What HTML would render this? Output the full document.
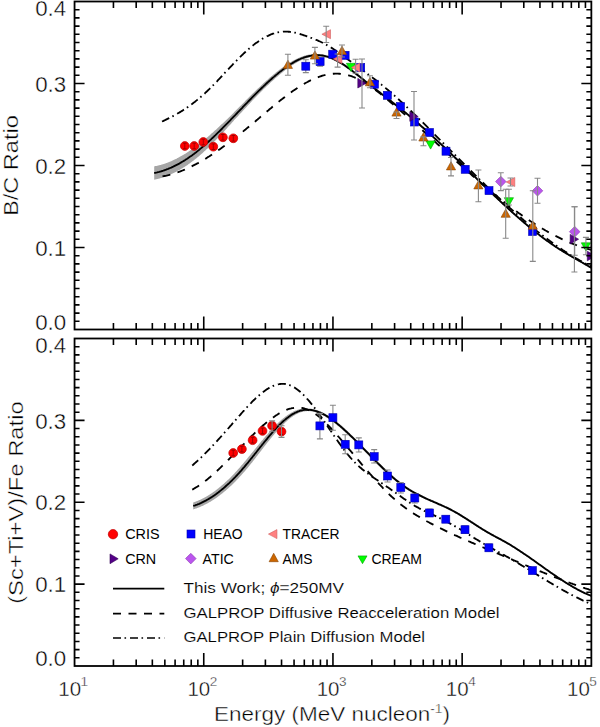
<!DOCTYPE html>
<html><head><meta charset="utf-8"><style>
html,body{margin:0;padding:0;background:#fff;overflow:hidden;}
svg{display:block;font-family:"Liberation Sans", sans-serif;}
text{stroke:#fff;stroke-width:0.4px;}
text.n{stroke:none;}
text.g{stroke-width:0.15px;}
</style></head><body>
<svg width="600" height="727" viewBox="0 0 600 727">
<defs><clipPath id="ct"><rect x="74.55" y="1.5" width="516.8000000000001" height="328.0"/></clipPath><clipPath id="cb"><rect x="74.55" y="338.5" width="516.8000000000001" height="327.5"/></clipPath></defs>
<g clip-path="url(#ct)">
<clipPath id="bc154"><rect x="154.2" y="0" width="445.8" height="727"/></clipPath>
<path d="M151.0 180.1 L151.5 180.1 L152.1 180.0 L152.6 179.9 L153.2 179.8 L153.8 179.8 L154.3 179.7 L154.9 179.6 L155.4 179.5 L155.9 179.3 L156.5 179.2 L157.0 179.1 L157.6 178.9 L158.1 178.8 L158.7 178.7 L159.2 178.5 L159.8 178.4 L160.3 178.2 L160.8 178.0 L161.4 177.9 L161.9 177.7 L162.5 177.5 L163.0 177.4 L163.5 177.2 L164.1 177.0 L164.6 176.8 L165.1 176.6 L165.7 176.4 L166.2 176.2 L166.7 176.0 L167.3 175.8 L167.8 175.6 L168.3 175.4 L168.9 175.1 L169.4 174.9 L169.9 174.7 L170.5 174.5 L171.0 174.2 L171.5 174.0 L172.0 173.8 L172.6 173.5 L173.1 173.3 L173.6 173.0 L174.1 172.7 L174.7 172.5 L175.2 172.2 L175.7 172.0 L176.2 171.7 L176.8 171.4 L177.3 171.1 L177.8 170.8 L178.3 170.6 L178.8 170.3 L179.4 170.0 L179.9 169.7 L180.4 169.4 L180.9 169.1 L181.4 168.8 L181.9 168.5 L182.5 168.2 L183.0 167.8 L183.5 167.5 L184.0 167.2 L184.5 166.9 L185.0 166.5 L185.5 166.2 L186.1 165.9 L186.6 165.5 L187.1 165.2 L187.6 164.9 L188.1 164.5 L188.6 164.1 L189.1 163.8 L189.6 163.4 L190.1 163.1 L190.6 162.7 L191.1 162.3 L191.6 161.9 L192.1 161.6 L192.6 161.2 L193.2 160.8 L193.7 160.4 L194.2 160.0 L194.7 159.6 L195.2 159.2 L195.7 158.8 L196.2 158.4 L196.7 158.0 L197.2 157.6 L197.7 157.2 L198.2 156.8 L198.7 156.4 L199.2 155.9 L199.7 155.5 L200.1 155.1 L200.6 154.7 L201.1 154.2 L201.6 153.8 L202.1 153.4 L202.6 152.9 L203.1 152.5 L203.6 152.0 L204.1 151.6 L204.6 151.1 L205.1 150.7 L205.6 150.2 L206.1 149.8 L206.6 149.3 L207.1 148.8 L207.6 148.4 L208.1 147.9 L208.6 147.4 L209.0 147.0 L209.5 146.5 L210.0 146.0 L210.5 145.5 L211.0 145.0 L211.5 144.6 L212.0 144.1 L212.5 143.6 L213.0 143.1 L213.4 142.6 L213.9 142.1 L214.4 141.6 L214.9 141.1 L215.4 140.6 L215.9 140.1 L216.4 139.6 L216.9 139.1 L217.3 138.6 L217.8 138.1 L218.3 137.6 L218.8 137.1 L219.3 136.6 L219.8 136.0 L220.3 135.5 L220.7 135.0 L221.2 134.5 L221.7 134.0 L222.2 133.5 L222.7 132.9 L223.2 132.4 L223.6 131.9 L224.1 131.4 L224.6 130.8 L225.1 130.3 L225.6 129.8 L226.0 129.2 L226.5 128.7 L227.0 128.2 L227.5 127.6 L228.0 127.1 L228.4 126.6 L228.9 126.0 L229.4 125.5 L229.9 125.0 L230.4 124.4 L230.9 123.9 L231.3 123.4 L231.8 122.8 L232.3 122.3 L232.8 121.7 L233.3 121.2 L233.7 120.7 L234.2 120.1 L234.7 119.6 L235.2 119.1 L235.7 118.5 L236.2 118.0 L236.7 117.5 L237.2 117.0 L237.7 116.4 L238.2 115.9 L238.6 115.4 L239.1 114.8 L239.6 114.3 L240.1 113.8 L240.6 113.2 L241.1 112.7 L241.6 112.2 L242.1 111.7 L242.6 111.1 L243.1 110.6 L243.6 110.1 L244.1 109.5 L244.5 109.0 L245.0 108.5 L245.5 108.0 L246.0 107.4 L246.5 106.9 L247.0 106.4 L247.5 105.8 L248.0 105.3 L248.5 104.8 L249.0 104.3 L249.5 103.8 L250.0 103.2 L250.4 102.7 L250.9 102.2 L251.4 101.7 L251.9 101.1 L252.4 100.6 L252.9 100.1 L253.4 99.6 L253.9 99.1 L254.4 98.6 L254.9 98.1 L255.4 97.6 L255.9 97.1 L256.4 96.5 L256.8 96.0 L257.3 95.5 L257.8 95.0 L258.3 94.5 L258.8 94.0 L259.3 93.5 L259.8 93.0 L260.3 92.5 L260.8 92.1 L261.3 91.6 L261.8 91.1 L262.3 90.6 L262.8 90.1 L263.2 89.6 L263.7 89.1 L264.2 88.6 L264.7 88.2 L265.2 87.7 L265.7 87.2 L266.2 86.7 L266.7 86.3 L267.2 85.8 L267.7 85.3 L268.2 84.9 L268.7 84.4 L269.1 83.9 L269.6 83.5 L270.1 83.0 L270.6 82.6 L271.1 82.1 L271.6 81.6 L272.1 81.2 L272.6 80.8 L273.1 80.3 L273.6 79.9 L274.1 79.4 L274.5 79.0 L275.0 78.6 L275.5 78.1 L276.0 77.7 L276.5 77.3 L277.0 76.9 L277.5 76.4 L278.0 76.0 L278.5 75.6 L279.0 75.2 L279.4 74.8 L279.9 74.4 L280.4 74.0 L280.9 73.6 L281.4 73.2 L281.9 72.8 L282.4 72.4 L282.9 72.0 L283.4 71.6 L283.9 71.2 L284.3 70.9 L284.8 70.5 L285.3 70.1 L285.8 69.8 L286.3 69.4 L286.8 69.0 L287.3 68.7 L287.8 68.3 L288.3 68.0 L288.7 67.6 L289.2 67.3 L289.7 66.9 L290.2 66.6 L290.7 66.3 L291.2 65.9 L291.7 65.6 L292.1 65.3 L292.6 65.0 L293.1 64.7 L293.6 64.4 L294.1 64.1 L294.6 63.8 L295.1 63.5 L295.5 63.2 L296.0 62.9 L296.5 62.7 L297.0 62.4 L297.5 62.1 L298.0 61.9 L298.4 61.6 L298.9 61.4 L299.4 61.1 L299.9 60.9 L300.4 60.7 L300.8 60.4 L301.3 60.2 L301.8 60.0 L302.3 59.8 L302.8 59.6 L303.3 59.4 L303.7 59.2 L304.2 59.1 L304.7 58.9 L305.2 58.7 L305.7 58.5 L306.1 58.4 L306.6 58.2 L307.1 58.1 L307.6 58.0 L308.1 57.8 L308.5 57.7 L309.0 57.6 L309.5 57.5 L310.0 57.4 L310.5 57.3 L310.9 57.2 L311.4 57.1 L311.9 57.0 L312.4 56.9 L312.9 56.8 L313.3 56.8 L313.8 56.7 L314.3 56.7 L314.8 56.6 L315.3 56.6 L315.8 56.6 L316.2 56.5 L316.7 56.5 L317.2 56.5 L317.7 56.5 L318.2 56.5 L318.6 56.5 L319.1 56.5 L319.6 56.6 L320.1 56.6 L320.6 56.6 L321.1 56.7 L321.5 56.7 L322.0 56.8 L322.5 56.8 L323.0 56.9 L323.5 57.0 L324.0 57.1 L324.4 57.2 L324.9 57.3 L325.4 57.4 L325.9 57.5 L326.4 57.6 L326.9 57.7 L327.4 57.9 L327.9 58.0 L328.3 58.2 L328.8 58.3 L329.3 58.5 L329.8 58.7 L330.3 58.8 L330.8 59.0 L331.3 59.2 L331.8 59.4 L332.3 59.6 L332.8 59.9 L333.2 60.1 L333.7 60.3 L334.2 60.6 L334.7 60.8 L335.2 61.0 L335.7 61.3 L336.2 61.5 L336.7 61.8 L337.2 62.1 L337.7 62.4 L338.2 62.6 L338.7 62.9 L339.1 63.2 L339.6 63.5 L340.1 63.8 L340.6 64.1 L341.1 64.4 L341.6 64.7 L342.1 65.0 L342.6 65.3 L343.1 65.7 L343.6 66.0 L344.1 66.3 L344.6 66.7 L345.1 67.0 L345.6 67.3 L346.1 67.7 L346.6 68.0 L347.1 68.4 L347.6 68.7 L348.1 69.1 L348.6 69.5 L349.1 69.8 L349.6 70.2 L350.1 70.6 L350.6 70.9 L351.1 71.3 L351.6 71.7 L352.1 72.1 L352.6 72.4 L353.1 72.8 L353.6 73.2 L354.1 73.6 L354.6 74.0 L355.1 74.4 L355.6 74.8 L356.0 75.2 L356.5 75.5 L357.0 75.9 L357.5 76.3 L358.0 76.7 L358.5 77.1 L359.0 77.5 L359.5 77.9 L360.0 78.3 L360.5 78.7 L361.0 79.1 L361.6 79.5 L362.1 79.9 L362.6 80.3 L363.1 80.7 L363.6 81.1 L364.1 81.5 L364.6 81.9 L365.1 82.3 L365.6 82.7 L366.1 83.1 L366.6 83.5 L367.1 83.9 L367.6 84.3 L368.1 84.7 L368.6 85.1 L369.1 85.5 L369.6 85.9 L370.1 86.2 L370.6 86.6 L371.1 87.0 L371.6 87.4 L372.1 87.8 L372.6 88.2 L373.1 88.6 L373.6 89.0 L374.1 89.4 L374.6 89.7 L375.1 90.1 L375.6 90.5 L376.1 90.9 L376.6 91.3 L377.1 91.7 L377.6 92.1 L378.1 92.5 L378.6 92.8 L379.1 93.2 L379.6 93.6 L380.1 94.0 L380.6 94.4 L381.1 94.8 L381.6 95.1 L382.1 95.5 L382.6 95.9 L383.1 96.3 L383.6 96.7 L384.1 97.1 L384.6 97.5 L385.1 97.8 L385.6 98.2 L386.1 98.6 L386.6 99.0 L387.1 99.4 L387.6 99.8 L388.1 100.2 L388.6 100.6 L389.1 100.9 L389.6 101.3 L390.1 101.7 L390.6 102.1 L391.1 102.5 L391.6 102.9 L392.1 103.3 L392.6 103.7 L393.1 104.1 L393.6 104.4 L394.1 104.8 L394.6 105.2 L395.1 105.6 L395.6 106.0 L396.1 106.4 L396.6 106.8 L397.1 107.2 L397.6 107.6 L398.1 108.0 L398.6 108.4 L399.1 108.8 L399.6 109.2 L400.1 109.6 L400.6 110.0 L401.1 110.4 L401.6 110.8 L402.1 111.2 L402.6 111.6 L403.1 112.0 L403.6 112.4 L404.1 112.8 L404.6 113.2 L405.1 113.6 L405.6 114.0 L406.1 114.4 L406.6 114.8 L407.1 115.2 L407.6 115.7 L408.1 116.1 L408.6 116.5 L409.1 116.9 L409.6 117.3 L410.1 117.7 L410.6 118.2 L411.1 118.6 L411.6 119.0 L412.1 119.4 L412.6 119.8 L413.1 120.3 L413.6 120.7 L414.1 121.1 L414.6 121.6 L415.1 122.0 L415.6 122.4 L416.1 122.8 L416.6 123.3 L417.1 123.7 L417.6 124.1 L418.1 124.6 L418.6 125.0 L419.1 125.5 L419.6 125.9 L420.1 126.3 L420.6 126.8 L421.1 127.2 L421.6 127.7 L422.1 128.1 L422.6 128.5 L423.1 129.0 L423.6 129.4 L424.1 129.9 L424.6 130.3 L425.1 130.8 L425.6 131.2 L426.1 131.7 L426.6 132.1 L427.1 132.6 L427.6 133.0 L428.1 133.5 L428.6 133.9 L429.1 134.4 L429.6 134.8 L430.1 135.3 L430.6 135.8 L431.1 136.2 L431.6 136.7 L432.1 137.1 L432.6 137.6 L433.1 138.1 L433.6 138.5 L434.1 139.0 L434.6 139.4 L435.1 139.9 L435.6 140.4 L436.1 140.8 L436.6 141.3 L437.1 141.8 L437.6 142.2 L438.1 142.7 L438.6 143.2 L439.1 143.6 L439.6 144.1 L440.1 144.6 L440.6 145.0 L441.1 145.5 L441.6 146.0 L442.1 146.5 L442.6 146.9 L443.1 147.4 L443.6 147.9 L444.1 148.4 L444.6 148.8 L445.1 149.3 L445.6 149.8 L446.1 150.3 L446.6 150.7 L447.1 151.2 L447.6 151.7 L448.1 152.2 L448.6 152.6 L449.1 153.1 L449.6 153.6 L450.1 154.1 L450.6 154.6 L451.1 155.0 L451.6 155.5 L452.1 156.0 L452.6 156.5 L453.1 157.0 L453.6 157.4 L454.1 157.9 L454.6 158.4 L455.1 158.9 L455.6 159.4 L456.1 159.9 L456.6 160.3 L457.1 160.8 L457.6 161.3 L458.1 161.8 L458.6 162.3 L459.1 162.8 L459.6 163.2 L460.1 163.7 L460.6 164.2 L461.1 164.7 L461.6 165.2 L462.1 165.7 L462.6 166.2 L463.1 166.6 L463.6 167.1 L464.1 167.6 L464.6 168.1 L465.1 168.6 L465.6 169.1 L466.1 169.6 L466.6 170.0 L467.1 170.5 L467.6 171.0 L468.1 171.5 L468.6 172.0 L469.1 172.5 L469.6 173.0 L470.1 173.4 L470.6 173.9 L471.1 174.4 L471.6 174.9 L472.1 175.4 L472.6 175.9 L473.1 176.4 L473.6 176.8 L474.1 177.3 L474.6 177.8 L475.1 178.3 L475.6 178.8 L476.1 179.3 L476.6 179.8 L477.1 180.2 L477.6 180.7 L478.1 181.2 L478.6 181.7 L479.1 182.2 L479.6 182.7 L480.1 183.1 L480.6 183.6 L481.1 184.1 L481.6 184.6 L482.1 185.1 L482.6 185.6 L483.1 186.0 L483.6 186.5 L484.1 187.0 L484.6 187.5 L485.1 188.0 L485.6 188.4 L486.1 188.9 L486.6 189.4 L487.1 189.9 L487.6 190.4 L488.1 190.8 L488.6 191.3 L489.1 191.8 L489.6 192.3 L490.1 192.8 L490.6 193.2 L491.1 193.7 L491.6 194.2 L492.1 194.7 L492.7 195.1 L493.2 195.6 L493.7 196.1 L494.2 196.6 L494.7 197.0 L495.2 197.5 L495.7 198.0 L496.2 198.4 L496.7 198.9 L497.2 199.4 L497.7 199.9 L498.2 200.3 L498.7 200.8 L499.2 201.3 L499.7 201.7 L500.2 202.2 L500.7 202.7 L501.2 203.1 L501.7 203.6 L502.2 204.1 L502.7 204.5 L503.2 205.0 L503.7 205.4 L504.2 205.9 L504.7 206.4 L505.2 206.8 L505.7 207.3 L506.2 207.7 L506.7 208.2 L507.2 208.7 L507.7 209.1 L508.2 209.6 L508.7 210.0 L509.2 210.5 L509.7 210.9 L510.2 211.4 L510.7 211.8 L511.2 212.3 L511.7 212.7 L512.2 213.2 L512.7 213.6 L513.2 214.1 L513.7 214.5 L514.2 215.0 L514.7 215.4 L515.2 215.9 L515.7 216.3 L516.2 216.8 L516.7 217.2 L517.2 217.6 L517.7 218.1 L518.2 218.5 L518.7 219.0 L519.2 219.4 L519.7 219.8 L520.2 220.3 L520.7 220.7 L521.2 221.1 L521.7 221.6 L522.2 222.0 L522.7 222.4 L523.2 222.8 L523.7 223.3 L524.2 223.7 L524.7 224.1 L525.2 224.5 L525.7 225.0 L526.2 225.4 L526.7 225.8 L527.2 226.2 L527.7 226.6 L528.2 227.0 L528.7 227.5 L529.2 227.9 L529.7 228.3 L530.2 228.7 L530.7 229.1 L531.2 229.5 L531.7 229.9 L532.2 230.3 L532.7 230.7 L533.2 231.1 L533.7 231.5 L534.3 231.9 L534.8 232.3 L535.3 232.7 L535.8 233.1 L536.3 233.5 L536.8 233.9 L537.3 234.3 L537.8 234.7 L538.3 235.1 L538.8 235.5 L539.3 235.9 L539.8 236.2 L540.3 236.6 L540.8 237.0 L541.3 237.4 L541.8 237.8 L542.3 238.1 L542.8 238.5 L543.3 238.9 L543.8 239.3 L544.3 239.6 L544.8 240.0 L545.3 240.4 L545.8 240.7 L546.3 241.1 L546.8 241.5 L547.3 241.8 L547.8 242.2 L548.3 242.5 L548.8 242.9 L549.3 243.2 L549.8 243.6 L550.3 243.9 L550.8 244.3 L551.3 244.6 L551.8 245.0 L552.3 245.3 L552.8 245.7 L553.3 246.0 L553.8 246.4 L554.3 246.7 L554.8 247.0 L555.3 247.4 L555.8 247.7 L556.3 248.0 L556.8 248.3 L557.3 248.7 L557.8 249.0 L558.3 249.3 L558.8 249.6 L559.3 249.9 L559.8 250.3 L560.3 250.6 L560.8 250.9 L561.3 251.2 L561.8 251.5 L562.4 251.8 L562.9 252.1 L563.4 252.4 L563.9 252.7 L564.4 253.0 L564.9 253.3 L565.4 253.6 L565.9 253.9 L566.4 254.2 L566.9 254.5 L567.4 254.8 L567.9 255.1 L568.4 255.4 L568.9 255.7 L569.4 256.0 L569.9 256.3 L570.4 256.6 L570.9 256.8 L571.4 257.1 L571.9 257.4 L572.4 257.7 L572.9 258.0 L573.4 258.3 L573.9 258.6 L574.4 258.8 L574.9 259.1 L575.4 259.4 L575.9 259.7 L576.4 260.0 L576.9 260.3 L577.4 260.5 L577.9 260.8 L578.4 261.1 L578.9 261.4 L579.4 261.7 L579.9 262.0 L580.4 262.2 L580.9 262.5 L581.4 262.8 L581.9 263.1 L582.4 263.4 L582.9 263.7 L583.4 263.9 L583.9 264.2 L584.4 264.5 L584.9 264.8 L585.4 265.1 L585.9 265.4 L586.4 265.7 L586.9 266.0 L587.4 266.2 L587.9 266.5 L588.4 266.8 L588.9 267.1 L589.4 267.4 L589.9 267.7 L590.4 268.0 L590.9 268.3 L591.4 268.6 L591.9 268.9 L592.4 269.2 L592.9 269.5 L593.4 269.8 L593.9 270.1 L594.4 270.4 L594.9 270.8 L595.1 270.9 L595.7 269.8 L595.5 269.7 L595.0 269.4 L594.5 269.1 L594.0 268.8 L593.5 268.5 L593.0 268.2 L592.5 267.9 L592.0 267.6 L591.5 267.3 L591.0 267.0 L590.5 266.7 L590.0 266.4 L589.5 266.1 L589.0 265.8 L588.5 265.5 L588.0 265.2 L587.5 264.9 L587.0 264.6 L586.5 264.3 L586.0 264.0 L585.5 263.7 L585.0 263.4 L584.5 263.1 L584.0 262.8 L583.5 262.6 L583.0 262.3 L582.5 262.0 L582.0 261.7 L581.5 261.4 L581.0 261.1 L580.5 260.8 L580.0 260.6 L579.5 260.3 L579.0 260.0 L578.5 259.7 L578.0 259.4 L577.5 259.1 L577.0 258.9 L576.5 258.6 L576.0 258.3 L575.5 258.0 L575.0 257.7 L574.5 257.4 L574.0 257.1 L573.5 256.9 L573.0 256.6 L572.5 256.3 L572.0 256.0 L571.5 255.7 L571.0 255.4 L570.5 255.1 L570.0 254.8 L569.5 254.6 L569.0 254.3 L568.5 254.0 L568.0 253.7 L567.5 253.4 L567.0 253.1 L566.5 252.8 L566.0 252.5 L565.5 252.2 L565.0 251.9 L564.5 251.6 L564.0 251.3 L563.5 251.0 L563.0 250.7 L562.6 250.4 L562.1 250.1 L561.6 249.7 L561.1 249.4 L560.6 249.1 L560.1 248.8 L559.6 248.5 L559.1 248.2 L558.6 247.9 L558.1 247.5 L557.6 247.2 L557.1 246.9 L556.6 246.5 L556.1 246.2 L555.6 245.9 L555.1 245.6 L554.6 245.2 L554.1 244.9 L553.6 244.5 L553.1 244.2 L552.6 243.9 L552.1 243.5 L551.6 243.2 L551.1 242.8 L550.6 242.5 L550.1 242.1 L549.6 241.8 L549.1 241.4 L548.6 241.0 L548.1 240.7 L547.6 240.3 L547.1 240.0 L546.6 239.6 L546.1 239.2 L545.6 238.9 L545.1 238.5 L544.6 238.1 L544.1 237.8 L543.6 237.4 L543.1 237.0 L542.6 236.6 L542.1 236.3 L541.6 235.9 L541.1 235.5 L540.6 235.1 L540.1 234.7 L539.6 234.3 L539.1 234.0 L538.6 233.6 L538.1 233.2 L537.6 232.8 L537.1 232.4 L536.6 232.0 L536.1 231.6 L535.6 231.2 L535.1 230.8 L534.7 230.4 L534.2 230.0 L533.7 229.6 L533.2 229.2 L532.7 228.8 L532.2 228.4 L531.7 228.0 L531.2 227.6 L530.7 227.2 L530.2 226.7 L529.7 226.3 L529.2 225.9 L528.7 225.5 L528.2 225.1 L527.7 224.7 L527.2 224.3 L526.7 223.8 L526.2 223.4 L525.7 223.0 L525.2 222.6 L524.7 222.1 L524.2 221.7 L523.7 221.3 L523.2 220.9 L522.7 220.4 L522.2 220.0 L521.7 219.6 L521.2 219.1 L520.7 218.7 L520.2 218.3 L519.7 217.8 L519.2 217.4 L518.7 216.9 L518.2 216.5 L517.7 216.1 L517.2 215.6 L516.7 215.2 L516.2 214.7 L515.7 214.3 L515.2 213.9 L514.7 213.4 L514.2 213.0 L513.7 212.5 L513.2 212.1 L512.7 211.6 L512.2 211.2 L511.7 210.7 L511.2 210.3 L510.7 209.8 L510.2 209.4 L509.7 208.9 L509.2 208.4 L508.7 208.0 L508.2 207.5 L507.7 207.1 L507.2 206.6 L506.7 206.2 L506.2 205.7 L505.7 205.2 L505.2 204.8 L504.7 204.3 L504.2 203.8 L503.7 203.4 L503.2 202.9 L502.7 202.5 L502.2 202.0 L501.7 201.5 L501.2 201.1 L500.7 200.6 L500.2 200.1 L499.7 199.6 L499.2 199.2 L498.7 198.7 L498.2 198.2 L497.7 197.8 L497.2 197.3 L496.7 196.8 L496.2 196.4 L495.7 195.9 L495.2 195.4 L494.7 194.9 L494.2 194.5 L493.7 194.0 L493.3 193.5 L492.8 193.0 L492.3 192.5 L491.8 192.1 L491.3 191.6 L490.8 191.1 L490.3 190.6 L489.8 190.2 L489.3 189.7 L488.8 189.2 L488.3 188.7 L487.8 188.2 L487.3 187.8 L486.8 187.3 L486.3 186.8 L485.8 186.3 L485.3 185.8 L484.8 185.3 L484.3 184.9 L483.8 184.4 L483.3 183.9 L482.8 183.4 L482.3 182.9 L481.8 182.4 L481.3 182.0 L480.8 181.5 L480.3 181.0 L479.8 180.5 L479.3 180.0 L478.8 179.5 L478.3 179.1 L477.8 178.6 L477.3 178.1 L476.8 177.6 L476.3 177.1 L475.8 176.6 L475.3 176.1 L474.8 175.6 L474.3 175.2 L473.8 174.7 L473.3 174.2 L472.8 173.7 L472.3 173.2 L471.8 172.7 L471.3 172.2 L470.8 171.8 L470.3 171.3 L469.8 170.8 L469.3 170.3 L468.8 169.8 L468.3 169.3 L467.8 168.8 L467.3 168.3 L466.8 167.9 L466.3 167.4 L465.8 166.9 L465.3 166.4 L464.8 165.9 L464.3 165.4 L463.8 164.9 L463.3 164.4 L462.8 164.0 L462.3 163.5 L461.8 163.0 L461.3 162.5 L460.8 162.0 L460.3 161.5 L459.8 161.0 L459.3 160.6 L458.8 160.1 L458.3 159.6 L457.8 159.1 L457.3 158.6 L456.8 158.1 L456.3 157.6 L455.8 157.2 L455.3 156.7 L454.8 156.2 L454.3 155.7 L453.8 155.2 L453.3 154.7 L452.8 154.3 L452.3 153.8 L451.8 153.3 L451.3 152.8 L450.8 152.3 L450.3 151.9 L449.8 151.4 L449.3 150.9 L448.8 150.4 L448.3 149.9 L447.8 149.5 L447.3 149.0 L446.8 148.5 L446.3 148.0 L445.8 147.5 L445.3 147.1 L444.8 146.6 L444.3 146.1 L443.8 145.6 L443.3 145.2 L442.8 144.7 L442.3 144.2 L441.8 143.7 L441.3 143.3 L440.8 142.8 L440.3 142.3 L439.8 141.9 L439.3 141.4 L438.8 140.9 L438.3 140.5 L437.8 140.0 L437.3 139.5 L436.8 139.0 L436.3 138.6 L435.8 138.1 L435.3 137.7 L434.8 137.2 L434.3 136.7 L433.8 136.3 L433.3 135.8 L432.8 135.3 L432.3 134.9 L431.8 134.4 L431.3 134.0 L430.8 133.5 L430.3 133.0 L429.8 132.6 L429.3 132.1 L428.8 131.7 L428.3 131.2 L427.8 130.8 L427.3 130.3 L426.8 129.9 L426.3 129.4 L425.8 128.9 L425.3 128.5 L424.8 128.1 L424.3 127.6 L423.8 127.2 L423.3 126.7 L422.8 126.3 L422.3 125.8 L421.8 125.4 L421.3 124.9 L420.8 124.5 L420.3 124.0 L419.8 123.6 L419.3 123.2 L418.8 122.7 L418.3 122.3 L417.8 121.9 L417.3 121.4 L416.8 121.0 L416.3 120.6 L415.8 120.1 L415.3 119.7 L414.8 119.3 L414.3 118.8 L413.8 118.4 L413.3 118.0 L412.8 117.6 L412.3 117.1 L411.8 116.7 L411.3 116.3 L410.8 115.9 L410.3 115.4 L409.8 115.0 L409.3 114.6 L408.8 114.2 L408.3 113.8 L407.8 113.4 L407.3 112.9 L406.8 112.5 L406.3 112.1 L405.8 111.7 L405.3 111.3 L404.8 110.9 L404.3 110.5 L403.8 110.1 L403.3 109.7 L402.8 109.3 L402.3 108.9 L401.8 108.5 L401.3 108.1 L400.8 107.7 L400.3 107.3 L399.8 106.9 L399.3 106.5 L398.8 106.1 L398.3 105.7 L397.8 105.3 L397.3 104.9 L396.8 104.5 L396.3 104.1 L395.8 103.7 L395.3 103.3 L394.8 102.9 L394.3 102.5 L393.8 102.1 L393.3 101.7 L392.8 101.3 L392.3 100.9 L391.8 100.5 L391.3 100.2 L390.8 99.8 L390.3 99.4 L389.8 99.0 L389.3 98.6 L388.8 98.2 L388.3 97.8 L387.8 97.4 L387.3 97.0 L386.8 96.7 L386.3 96.3 L385.8 95.9 L385.3 95.5 L384.8 95.1 L384.3 94.7 L383.8 94.3 L383.3 93.9 L382.8 93.6 L382.3 93.2 L381.8 92.8 L381.3 92.4 L380.8 92.0 L380.3 91.6 L379.8 91.2 L379.3 90.9 L378.8 90.5 L378.3 90.1 L377.8 89.7 L377.3 89.3 L376.8 88.9 L376.3 88.5 L375.8 88.1 L375.3 87.7 L374.8 87.4 L374.3 87.0 L373.8 86.6 L373.3 86.2 L372.8 85.8 L372.3 85.4 L371.8 85.0 L371.3 84.6 L370.8 84.2 L370.3 83.8 L369.8 83.5 L369.3 83.1 L368.8 82.7 L368.3 82.3 L367.8 81.9 L367.3 81.5 L366.8 81.1 L366.3 80.7 L365.8 80.3 L365.3 79.9 L364.8 79.5 L364.3 79.1 L363.8 78.7 L363.3 78.3 L362.8 77.9 L362.4 77.5 L361.9 77.1 L361.4 76.7 L360.9 76.3 L360.4 75.9 L359.9 75.5 L359.4 75.1 L358.9 74.7 L358.4 74.3 L357.9 73.9 L357.4 73.5 L356.8 73.1 L356.3 72.7 L355.8 72.3 L355.3 71.9 L354.8 71.5 L354.3 71.2 L353.8 70.8 L353.3 70.4 L352.8 70.0 L352.3 69.6 L351.8 69.2 L351.3 68.9 L350.8 68.5 L350.3 68.1 L349.8 67.7 L349.3 67.4 L348.8 67.0 L348.3 66.7 L347.8 66.3 L347.3 65.9 L346.8 65.6 L346.3 65.2 L345.8 64.9 L345.3 64.5 L344.8 64.2 L344.3 63.9 L343.8 63.5 L343.3 63.2 L342.8 62.9 L342.3 62.6 L341.8 62.3 L341.3 61.9 L340.8 61.6 L340.3 61.3 L339.7 61.0 L339.2 60.7 L338.7 60.5 L338.2 60.2 L337.7 59.9 L337.2 59.6 L336.7 59.4 L336.2 59.1 L335.7 58.8 L335.2 58.6 L334.7 58.3 L334.2 58.1 L333.6 57.9 L333.1 57.6 L332.6 57.4 L332.1 57.2 L331.6 57.0 L331.1 56.8 L330.6 56.6 L330.1 56.4 L329.6 56.2 L329.1 56.0 L328.5 55.9 L328.0 55.7 L327.5 55.5 L327.0 55.4 L326.5 55.2 L326.0 55.1 L325.5 55.0 L325.0 54.8 L324.4 54.7 L323.9 54.6 L323.4 54.5 L322.9 54.4 L322.4 54.3 L321.9 54.2 L321.3 54.2 L320.8 54.1 L320.3 54.1 L319.8 54.0 L319.3 54.0 L318.8 53.9 L318.2 53.9 L317.7 53.9 L317.2 53.9 L316.7 53.9 L316.2 53.9 L315.6 53.9 L315.1 53.9 L314.6 53.9 L314.1 53.9 L313.6 54.0 L313.1 54.0 L312.5 54.1 L312.0 54.1 L311.5 54.2 L311.0 54.2 L310.5 54.3 L309.9 54.4 L309.4 54.5 L308.9 54.6 L308.4 54.7 L307.9 54.8 L307.3 54.9 L306.8 55.1 L306.3 55.2 L305.8 55.3 L305.3 55.5 L304.7 55.6 L304.2 55.8 L303.7 55.9 L303.2 56.1 L302.7 56.3 L302.1 56.5 L301.6 56.7 L301.1 56.9 L300.6 57.1 L300.1 57.3 L299.6 57.5 L299.0 57.7 L298.5 57.9 L298.0 58.2 L297.5 58.4 L297.0 58.6 L296.4 58.9 L295.9 59.1 L295.4 59.4 L294.9 59.7 L294.4 59.9 L293.9 60.2 L293.3 60.5 L292.8 60.8 L292.3 61.1 L291.8 61.4 L291.3 61.7 L290.8 62.0 L290.3 62.3 L289.7 62.6 L289.2 62.9 L288.7 63.3 L288.2 63.6 L287.7 63.9 L287.2 64.3 L286.7 64.6 L286.1 64.9 L285.6 65.3 L285.1 65.6 L284.6 66.0 L284.1 66.4 L283.6 66.7 L283.1 67.1 L282.6 67.4 L282.1 67.8 L281.5 68.2 L281.0 68.6 L280.5 69.0 L280.0 69.3 L279.5 69.7 L279.0 70.1 L278.5 70.5 L278.0 70.9 L277.5 71.3 L277.0 71.7 L276.4 72.1 L275.9 72.5 L275.4 72.9 L274.9 73.4 L274.4 73.8 L273.9 74.2 L273.4 74.6 L272.9 75.0 L272.4 75.5 L271.9 75.9 L271.3 76.3 L270.8 76.8 L270.3 77.2 L269.8 77.6 L269.3 78.1 L268.8 78.5 L268.3 79.0 L267.8 79.4 L267.3 79.9 L266.8 80.3 L266.3 80.8 L265.7 81.2 L265.2 81.7 L264.7 82.2 L264.2 82.6 L263.7 83.1 L263.2 83.6 L262.7 84.0 L262.2 84.5 L261.7 85.0 L261.2 85.4 L260.7 85.9 L260.2 86.4 L259.6 86.9 L259.1 87.4 L258.6 87.9 L258.1 88.3 L257.6 88.8 L257.1 89.3 L256.6 89.8 L256.1 90.3 L255.6 90.8 L255.1 91.3 L254.6 91.8 L254.1 92.3 L253.6 92.8 L253.0 93.3 L252.5 93.8 L252.0 94.3 L251.5 94.8 L251.0 95.3 L250.5 95.8 L250.0 96.3 L249.5 96.8 L249.0 97.3 L248.5 97.8 L248.0 98.3 L247.5 98.8 L247.0 99.3 L246.4 99.8 L245.9 100.3 L245.4 100.8 L244.9 101.4 L244.4 101.9 L243.9 102.4 L243.4 102.9 L242.9 103.4 L242.4 103.9 L241.9 104.4 L241.4 104.9 L240.9 105.5 L240.3 106.0 L239.8 106.5 L239.3 107.0 L238.8 107.5 L238.3 108.0 L237.8 108.5 L237.3 109.1 L236.8 109.6 L236.3 110.1 L235.8 110.6 L235.3 111.1 L234.8 111.6 L234.2 112.1 L233.7 112.7 L233.2 113.2 L232.7 113.7 L232.2 114.2 L231.7 114.7 L231.2 115.2 L230.7 115.7 L230.2 116.3 L229.7 116.8 L229.1 117.3 L228.6 117.8 L228.1 118.2 L227.6 118.7 L227.1 119.2 L226.5 119.7 L226.0 120.2 L225.5 120.7 L225.0 121.2 L224.5 121.7 L224.0 122.2 L223.4 122.7 L222.9 123.2 L222.4 123.7 L221.9 124.1 L221.4 124.6 L220.8 125.1 L220.3 125.6 L219.8 126.1 L219.3 126.6 L218.8 127.0 L218.2 127.5 L217.7 128.0 L217.2 128.5 L216.7 128.9 L216.2 129.4 L215.7 129.9 L215.1 130.3 L214.6 130.8 L214.1 131.3 L213.6 131.7 L213.1 132.2 L212.6 132.7 L212.1 133.1 L211.5 133.6 L211.0 134.0 L210.5 134.5 L210.0 134.9 L209.5 135.4 L209.0 135.8 L208.5 136.3 L208.0 136.7 L207.4 137.2 L206.9 137.6 L206.4 138.0 L205.9 138.5 L205.4 138.9 L204.9 139.3 L204.4 139.7 L203.9 140.2 L203.4 140.6 L202.8 141.0 L202.3 141.4 L201.8 141.8 L201.3 142.2 L200.8 142.6 L200.3 143.0 L199.8 143.4 L199.3 143.8 L198.8 144.2 L198.3 144.6 L197.8 145.0 L197.3 145.4 L196.8 145.8 L196.3 146.2 L195.8 146.5 L195.3 146.9 L194.8 147.3 L194.3 147.6 L193.7 148.0 L193.2 148.4 L192.7 148.7 L192.2 149.1 L191.7 149.4 L191.2 149.8 L190.7 150.1 L190.2 150.4 L189.7 150.8 L189.2 151.1 L188.7 151.4 L188.2 151.8 L187.7 152.1 L187.2 152.4 L186.8 152.7 L186.3 153.0 L185.8 153.4 L185.3 153.7 L184.8 154.0 L184.3 154.3 L183.8 154.6 L183.3 154.9 L182.8 155.1 L182.3 155.4 L181.8 155.7 L181.3 156.0 L180.8 156.3 L180.3 156.6 L179.9 156.8 L179.4 157.1 L178.9 157.4 L178.4 157.6 L177.9 157.9 L177.4 158.1 L176.9 158.4 L176.5 158.7 L176.0 158.9 L175.5 159.1 L175.0 159.4 L174.5 159.6 L174.0 159.8 L173.6 160.1 L173.1 160.3 L172.6 160.5 L172.1 160.7 L171.6 161.0 L171.2 161.2 L170.7 161.4 L170.2 161.6 L169.7 161.8 L169.3 162.0 L168.8 162.2 L168.3 162.3 L167.8 162.5 L167.4 162.7 L166.9 162.9 L166.4 163.1 L165.9 163.2 L165.5 163.4 L165.0 163.6 L164.5 163.7 L164.1 163.9 L163.6 164.0 L163.1 164.2 L162.7 164.3 L162.2 164.5 L161.7 164.6 L161.3 164.7 L160.8 164.9 L160.3 165.0 L159.9 165.1 L159.4 165.2 L158.9 165.3 L158.5 165.5 L158.0 165.6 L157.6 165.7 L157.1 165.8 L156.6 165.9 L156.2 166.0 L155.7 166.0 L155.3 166.1 L154.8 166.2 L154.4 166.3 L153.9 166.4 L153.5 166.4 L153.0 166.5 L152.5 166.6 L152.1 166.7 L151.6 166.7 L151.2 166.8 L150.8 166.9 L150.3 166.9 L149.9 167.0 L149.4 167.0Z" fill="#a6a6a6" stroke="none" clip-path="url(#bc154)"/>
<path d="M162.5 176.4 L163.5 176.2 L164.5 176.0 L165.5 175.8 L166.5 175.6 L167.5 175.3 L168.5 175.1 L169.5 174.8 L170.5 174.6 L171.5 174.3 L172.5 174.0 L173.5 173.7 L174.5 173.4 L175.5 173.1 L176.5 172.7 L177.5 172.4 L178.5 172.0 L179.5 171.7 L180.5 171.3 L181.5 170.9 L182.5 170.5 L183.5 170.1 L184.5 169.7 L185.5 169.2 L186.5 168.8 L187.5 168.3 L188.5 167.9 L189.5 167.4 L190.5 166.9 L191.5 166.4 L192.5 165.9 L193.5 165.4 L194.5 164.9 L195.5 164.4 L196.5 163.9 L197.5 163.3 L198.5 162.8 L199.5 162.2 L200.5 161.6 L201.5 161.1 L202.5 160.5 L203.5 159.9 L204.5 159.3 L205.5 158.7 L206.5 158.1 L207.5 157.4 L208.5 156.8 L209.5 156.2 L210.5 155.5 L211.5 154.9 L212.5 154.2 L213.5 153.6 L214.5 152.9 L215.5 152.2 L216.5 151.5 L217.5 150.8 L218.5 150.1 L219.5 149.4 L220.5 148.7 L221.5 148.0 L222.5 147.3 L223.5 146.6 L224.5 145.8 L225.5 145.1 L226.5 144.4 L227.5 143.6 L228.5 142.9 L229.5 142.1 L230.5 141.4 L231.5 140.6 L232.5 139.8 L233.5 139.0 L234.5 138.3 L235.5 137.5 L236.5 136.7 L237.5 135.9 L238.5 135.1 L239.5 134.3 L240.5 133.5 L241.5 132.7 L242.5 131.9 L243.5 131.1 L244.5 130.3 L245.5 129.5 L246.5 128.6 L247.5 127.8 L248.5 127.0 L249.5 126.2 L250.5 125.3 L251.5 124.5 L252.5 123.7 L253.5 122.8 L254.5 122.0 L255.5 121.2 L256.5 120.3 L257.5 119.5 L258.5 118.6 L259.5 117.8 L260.5 116.9 L261.5 116.1 L262.5 115.2 L263.5 114.4 L264.5 113.5 L265.5 112.7 L266.5 111.9 L267.5 111.0 L268.5 110.2 L269.5 109.3 L270.5 108.5 L271.5 107.7 L272.5 106.8 L273.5 106.0 L274.5 105.2 L275.5 104.4 L276.5 103.5 L277.5 102.7 L278.5 101.9 L279.5 101.1 L280.5 100.3 L281.5 99.5 L282.5 98.8 L283.5 98.0 L284.5 97.2 L285.5 96.4 L286.5 95.7 L287.5 94.9 L288.5 94.2 L289.5 93.5 L290.5 92.7 L291.5 92.0 L292.5 91.3 L293.5 90.6 L294.5 89.9 L295.5 89.2 L296.5 88.6 L297.5 87.9 L298.5 87.3 L299.5 86.6 L300.5 86.0 L301.5 85.4 L302.5 84.8 L303.5 84.2 L304.5 83.6 L305.5 83.0 L306.5 82.5 L307.5 82.0 L308.5 81.4 L309.5 80.9 L310.5 80.4 L311.5 79.9 L312.5 79.5 L313.5 79.0 L314.5 78.6 L315.5 78.2 L316.5 77.8 L317.5 77.4 L318.5 77.0 L319.5 76.7 L320.5 76.3 L321.5 76.0 L322.5 75.7 L323.5 75.4 L324.5 75.2 L325.5 74.9 L326.5 74.7 L327.5 74.5 L328.5 74.3 L329.5 74.2 L330.5 74.0 L331.5 73.9 L332.5 73.8 L333.5 73.7 L334.5 73.7 L335.5 73.6 L336.5 73.6 L337.5 73.6 L338.5 73.7 L339.5 73.7 L340.5 73.8 L341.5 73.9 L342.5 74.0 L343.5 74.2 L344.5 74.4 L345.5 74.6 L346.5 74.8 L347.5 75.0 L348.5 75.3 L349.5 75.6 L350.5 75.9 L351.5 76.2 L352.5 76.6 L353.5 77.0 L354.5 77.4 L355.5 77.8 L356.5 78.2 L357.5 78.7 L358.5 79.2 L359.5 79.7 L360.5 80.2 L361.5 80.8 L362.5 81.3 L363.5 81.9 L364.5 82.5 L365.5 83.1 L366.5 83.7 L367.5 84.4 L368.5 85.1 L369.5 85.7 L370.5 86.4 L371.5 87.1 L372.5 87.8 L373.5 88.6 L374.5 89.3 L375.5 90.0 L376.5 90.8 L377.5 91.6 L378.5 92.3 L379.5 93.1 L380.5 93.9 L381.5 94.7 L382.5 95.5 L383.5 96.3 L384.5 97.2 L385.5 98.0 L386.5 98.8 L387.5 99.6 L388.5 100.5 L389.5 101.3 L390.5 102.2 L391.5 103.0 L392.5 103.9 L393.5 104.7 L394.5 105.6 L395.5 106.4 L396.5 107.3 L397.5 108.1 L398.5 109.0 L399.5 109.9 L400.5 110.7 L401.5 111.6 L402.5 112.5 L403.5 113.4 L404.5 114.2 L405.5 115.1 L406.5 116.0 L407.5 116.9 L408.5 117.8 L409.5 118.7 L410.5 119.6 L411.5 120.5 L412.5 121.4 L413.5 122.2 L414.5 123.1 L415.5 124.0 L416.5 124.9 L417.5 125.8 L418.5 126.8 L419.5 127.7 L420.5 128.6 L421.5 129.5 L422.5 130.4 L423.5 131.3 L424.5 132.2 L425.5 133.1 L426.5 134.0 L427.5 134.9 L428.5 135.8 L429.5 136.8 L430.5 137.7 L431.5 138.6 L432.5 139.5 L433.5 140.4 L434.5 141.3 L435.5 142.2 L436.5 143.2 L437.5 144.1 L438.5 145.0 L439.5 145.9 L440.5 146.8 L441.5 147.7 L442.5 148.7 L443.5 149.6 L444.5 150.5 L445.5 151.4 L446.5 152.3 L447.5 153.2 L448.5 154.1 L449.5 155.1 L450.5 156.0 L451.5 156.9 L452.5 157.8 L453.5 158.7 L454.5 159.6 L455.5 160.5 L456.5 161.4 L457.5 162.3 L458.5 163.2 L459.5 164.1 L460.5 165.0 L461.5 165.9 L462.5 166.8 L463.5 167.7 L464.5 168.6 L465.5 169.5 L466.5 170.4 L467.5 171.3 L468.5 172.2 L469.5 173.1 L470.5 173.9 L471.5 174.8 L472.5 175.7 L473.5 176.6 L474.5 177.5 L475.5 178.3 L476.5 179.2 L477.5 180.1 L478.5 180.9 L479.5 181.8 L480.5 182.7 L481.5 183.5 L482.5 184.4 L483.5 185.2 L484.5 186.1 L485.5 186.9 L486.5 187.8 L487.5 188.6 L488.5 189.4 L489.5 190.3 L490.5 191.1 L491.5 191.9 L492.5 192.8 L493.5 193.6 L494.5 194.4 L495.5 195.2 L496.5 196.0 L497.5 196.8 L498.5 197.6 L499.5 198.4 L500.5 199.2 L501.5 200.0 L502.5 200.8 L503.5 201.6 L504.5 202.4 L505.5 203.1 L506.5 203.9 L507.5 204.7 L508.5 205.5 L509.5 206.2 L510.5 207.0 L511.5 207.7 L512.5 208.5 L513.5 209.2 L514.5 210.0 L515.5 210.7 L516.5 211.4 L517.5 212.1 L518.5 212.9 L519.5 213.6 L520.5 214.3 L521.5 215.0 L522.5 215.7 L523.5 216.4 L524.5 217.1 L525.5 217.8 L526.5 218.5 L527.5 219.2 L528.5 219.8 L529.5 220.5 L530.5 221.2 L531.5 221.8 L532.5 222.5 L533.5 223.1 L534.5 223.8 L535.5 224.4 L536.5 225.0 L537.5 225.7 L538.5 226.3 L539.5 226.9 L540.5 227.5 L541.5 228.1 L542.5 228.7 L543.5 229.3 L544.5 229.9 L545.5 230.5 L546.5 231.0 L547.5 231.6 L548.5 232.2 L549.5 232.7 L550.5 233.3 L551.5 233.8 L552.5 234.3 L553.5 234.9 L554.5 235.4 L555.5 235.9 L556.5 236.4 L557.5 236.9 L558.5 237.4 L559.5 237.9 L560.5 238.4 L561.5 238.9 L562.5 239.4 L563.5 239.8 L564.5 240.3 L565.5 240.7 L566.5 241.2 L567.5 241.6 L568.5 242.0 L569.5 242.5 L570.5 242.9 L571.5 243.3 L572.5 243.7 L573.5 244.1 L574.5 244.5 L575.5 244.9 L576.5 245.2 L577.5 245.6 L578.5 245.9 L579.5 246.3 L580.5 246.6 L581.5 247.0 L582.5 247.3 L583.5 247.6 L584.5 247.9 L585.5 248.2 L586.5 248.5 L587.5 248.8 L588.5 249.1 L589.5 249.4 L590.5 249.6 L591.4 249.8" fill="none" stroke="#000" stroke-width="1.85" stroke-dasharray="8 7.5" stroke-linejoin="round"/>
<path d="M162.0 121.5 L163.0 121.1 L164.0 120.6 L165.0 120.2 L166.0 119.7 L167.0 119.2 L168.0 118.7 L169.0 118.2 L170.0 117.7 L171.0 117.2 L172.0 116.7 L173.0 116.1 L174.0 115.6 L175.0 115.0 L176.0 114.5 L177.0 113.9 L178.0 113.3 L179.0 112.7 L180.0 112.1 L181.0 111.5 L182.0 110.9 L183.0 110.2 L184.0 109.6 L185.0 108.9 L186.0 108.2 L187.0 107.6 L188.0 106.9 L189.0 106.2 L190.0 105.4 L191.0 104.7 L192.0 104.0 L193.0 103.2 L194.0 102.4 L195.0 101.7 L196.0 100.9 L197.0 100.1 L198.0 99.3 L199.0 98.4 L200.0 97.6 L201.0 96.7 L202.0 95.9 L203.0 95.0 L204.0 94.1 L205.0 93.2 L206.0 92.2 L207.0 91.3 L208.0 90.3 L209.0 89.4 L210.0 88.4 L211.0 87.4 L212.0 86.4 L213.0 85.4 L214.0 84.4 L215.0 83.3 L216.0 82.3 L217.0 81.3 L218.0 80.2 L219.0 79.2 L220.0 78.1 L221.0 77.0 L222.0 76.0 L223.0 74.9 L224.0 73.8 L225.0 72.7 L226.0 71.7 L227.0 70.6 L228.0 69.5 L229.0 68.5 L230.0 67.4 L231.0 66.3 L232.0 65.3 L233.0 64.2 L234.0 63.2 L235.0 62.1 L236.0 61.1 L237.0 60.1 L238.0 59.1 L239.0 58.1 L240.0 57.1 L241.0 56.1 L242.0 55.1 L243.0 54.2 L244.0 53.2 L245.0 52.3 L246.0 51.4 L247.0 50.5 L248.0 49.6 L249.0 48.7 L250.0 47.9 L251.0 47.0 L252.0 46.2 L253.0 45.4 L254.0 44.6 L255.0 43.8 L256.0 43.1 L257.0 42.4 L258.0 41.7 L259.0 41.0 L260.0 40.3 L261.0 39.7 L262.0 39.0 L263.0 38.4 L264.0 37.8 L265.0 37.3 L266.0 36.8 L267.0 36.2 L268.0 35.8 L269.0 35.3 L270.0 34.8 L271.0 34.4 L272.0 34.0 L273.0 33.7 L274.0 33.4 L275.0 33.0 L276.0 32.8 L277.0 32.5 L278.0 32.3 L279.0 32.1 L280.0 31.9 L281.0 31.8 L282.0 31.7 L283.0 31.6 L284.0 31.6 L285.0 31.6 L286.0 31.6 L287.0 31.6 L288.0 31.7 L289.0 31.7 L290.0 31.9 L291.0 32.0 L292.0 32.1 L293.0 32.3 L294.0 32.5 L295.0 32.7 L296.0 33.0 L297.0 33.2 L298.0 33.5 L299.0 33.7 L300.0 34.0 L301.0 34.3 L302.0 34.6 L303.0 35.0 L304.0 35.3 L305.0 35.6 L306.0 36.0 L307.0 36.3 L308.0 36.7 L309.0 37.1 L310.0 37.4 L311.0 37.8 L312.0 38.2 L313.0 38.6 L314.0 39.0 L315.0 39.4 L316.0 39.8 L317.0 40.2 L318.0 40.6 L319.0 41.1 L320.0 41.5 L321.0 42.0 L322.0 42.5 L323.0 43.0 L324.0 43.5 L325.0 44.0 L326.0 44.6 L327.0 45.1 L328.0 45.7 L329.0 46.3 L330.0 46.9 L331.0 47.5 L332.0 48.1 L333.0 48.7 L334.0 49.4 L335.0 50.1 L336.0 50.7 L337.0 51.4 L338.0 52.1 L339.0 52.8 L340.0 53.6 L341.0 54.3 L342.0 55.0 L343.0 55.7 L344.0 56.5 L345.0 57.2 L346.0 58.0 L347.0 58.7 L348.0 59.5 L349.0 60.2 L350.0 60.9 L351.0 61.7 L352.0 62.4 L353.0 63.1 L354.0 63.9 L355.0 64.6 L356.0 65.3 L357.0 66.1 L358.0 66.8 L359.0 67.5 L360.0 68.3 L361.0 69.0 L362.0 69.7 L363.0 70.5 L364.0 71.2 L365.0 72.0 L366.0 72.7 L367.0 73.4 L368.0 74.2 L369.0 74.9 L370.0 75.7 L371.0 76.4 L372.0 77.2 L373.0 78.0 L374.0 78.7 L375.0 79.5 L376.0 80.3 L377.0 81.1 L378.0 81.9 L379.0 82.6 L380.0 83.4 L381.0 84.2 L382.0 85.1 L383.0 85.9 L384.0 86.7 L385.0 87.5 L386.0 88.4 L387.0 89.2 L388.0 90.0 L389.0 90.9 L390.0 91.8 L391.0 92.6 L392.0 93.5 L393.0 94.4 L394.0 95.2 L395.0 96.1 L396.0 97.0 L397.0 97.9 L398.0 98.8 L399.0 99.7 L400.0 100.7 L401.0 101.6 L402.0 102.5 L403.0 103.4 L404.0 104.4 L405.0 105.3 L406.0 106.2 L407.0 107.2 L408.0 108.1 L409.0 109.1 L410.0 110.0 L411.0 111.0 L412.0 112.0 L413.0 112.9 L414.0 113.9 L415.0 114.9 L416.0 115.8 L417.0 116.8 L418.0 117.8 L419.0 118.8 L420.0 119.8 L421.0 120.7 L422.0 121.7 L423.0 122.7 L424.0 123.7 L425.0 124.7 L426.0 125.7 L427.0 126.7 L428.0 127.7 L429.0 128.7 L430.0 129.7 L431.0 130.7 L432.0 131.7 L433.0 132.7 L434.0 133.7 L435.0 134.8 L436.0 135.8 L437.0 136.8 L438.0 137.8 L439.0 138.8 L440.0 139.8 L441.0 140.8 L442.0 141.8 L443.0 142.8 L444.0 143.8 L445.0 144.9 L446.0 145.9 L447.0 146.9 L448.0 147.9 L449.0 148.9 L450.0 149.9 L451.0 150.9 L452.0 151.9 L453.0 152.9 L454.0 153.9 L455.0 154.9 L456.0 156.0 L457.0 157.0 L458.0 158.0 L459.0 159.0 L460.0 160.0 L461.0 161.0 L462.0 162.0 L463.0 163.0 L464.0 164.0 L465.0 165.0 L466.0 166.0 L467.0 167.0 L468.0 168.0 L469.0 169.0 L470.0 170.0 L471.0 170.9 L472.0 171.9 L473.0 172.9 L474.0 173.9 L475.0 174.9 L476.0 175.9 L477.0 176.9 L478.0 177.8 L479.0 178.8 L480.0 179.8 L481.0 180.8 L482.0 181.8 L483.0 182.7 L484.0 183.7 L485.0 184.7 L486.0 185.6 L487.0 186.6 L488.0 187.6 L489.0 188.5 L490.0 189.5 L491.0 190.4 L492.0 191.4 L493.0 192.3 L494.0 193.3 L495.0 194.2 L496.0 195.2 L497.0 196.1 L498.0 197.1 L499.0 198.0 L500.0 198.9 L501.0 199.9 L502.0 200.8 L503.0 201.7 L504.0 202.6 L505.0 203.5 L506.0 204.5 L507.0 205.4 L508.0 206.3 L509.0 207.2 L510.0 208.1 L511.0 209.0 L512.0 209.9 L513.0 210.8 L514.0 211.7 L515.0 212.6 L516.0 213.4 L517.0 214.3 L518.0 215.2 L519.0 216.1 L520.0 216.9 L521.0 217.8 L522.0 218.7 L523.0 219.5 L524.0 220.4 L525.0 221.2 L526.0 222.1 L527.0 222.9 L528.0 223.8 L529.0 224.6 L530.0 225.4 L531.0 226.2 L532.0 227.1 L533.0 227.9 L534.0 228.7 L535.0 229.5 L536.0 230.3 L537.0 231.1 L538.0 231.9 L539.0 232.7 L540.0 233.5 L541.0 234.3 L542.0 235.0 L543.0 235.8 L544.0 236.6 L545.0 237.3 L546.0 238.1 L547.0 238.8 L548.0 239.6 L549.0 240.3 L550.0 241.1 L551.0 241.8 L552.0 242.5 L553.0 243.3 L554.0 244.0 L555.0 244.7 L556.0 245.4 L557.0 246.1 L558.0 246.8 L559.0 247.5 L560.0 248.1 L561.0 248.8 L562.0 249.5 L563.0 250.2 L564.0 250.8 L565.0 251.5 L566.0 252.1 L567.0 252.8 L568.0 253.4 L569.0 254.0 L570.0 254.7 L571.0 255.3 L572.0 255.9 L573.0 256.5 L574.0 257.1 L575.0 257.7 L576.0 258.3 L577.0 258.9 L578.0 259.4 L579.0 260.0 L580.0 260.6 L581.0 261.1 L582.0 261.7 L583.0 262.2 L584.0 262.7 L585.0 263.3 L586.0 263.8 L587.0 264.3 L588.0 264.8 L589.0 265.3 L590.0 265.8 L591.0 266.3 L591.4 266.5" fill="none" stroke="#000" stroke-width="1.85" stroke-dasharray="8 3.5 1.6 3.9" stroke-linejoin="round"/>
<path d="M154.2 173.0 L155.2 172.8 L156.2 172.6 L157.2 172.4 L158.2 172.1 L159.2 171.9 L160.2 171.6 L161.2 171.3 L162.2 171.0 L163.2 170.7 L164.2 170.3 L165.2 170.0 L166.2 169.6 L167.2 169.2 L168.2 168.9 L169.2 168.4 L170.2 168.0 L171.2 167.6 L172.2 167.1 L173.2 166.7 L174.2 166.2 L175.2 165.7 L176.2 165.2 L177.2 164.7 L178.2 164.1 L179.2 163.6 L180.2 163.0 L181.2 162.4 L182.2 161.8 L183.2 161.2 L184.2 160.6 L185.2 160.0 L186.2 159.3 L187.2 158.7 L188.2 158.0 L189.2 157.3 L190.2 156.6 L191.2 155.9 L192.2 155.2 L193.2 154.4 L194.2 153.7 L195.2 152.9 L196.2 152.2 L197.2 151.4 L198.2 150.6 L199.2 149.8 L200.2 148.9 L201.2 148.1 L202.2 147.3 L203.2 146.4 L204.2 145.5 L205.2 144.7 L206.2 143.8 L207.2 142.9 L208.2 142.0 L209.2 141.0 L210.2 140.1 L211.2 139.2 L212.2 138.2 L213.2 137.3 L214.2 136.3 L215.2 135.4 L216.2 134.4 L217.2 133.4 L218.2 132.4 L219.2 131.5 L220.2 130.5 L221.2 129.5 L222.2 128.5 L223.2 127.4 L224.2 126.4 L225.2 125.4 L226.2 124.4 L227.2 123.4 L228.2 122.3 L229.2 121.3 L230.2 120.3 L231.2 119.2 L232.2 118.2 L233.2 117.1 L234.2 116.1 L235.2 115.1 L236.2 114.0 L237.2 113.0 L238.2 111.9 L239.2 110.9 L240.2 109.8 L241.2 108.8 L242.2 107.8 L243.2 106.7 L244.2 105.7 L245.2 104.6 L246.2 103.6 L247.2 102.6 L248.2 101.5 L249.2 100.5 L250.2 99.5 L251.2 98.5 L252.2 97.4 L253.2 96.4 L254.2 95.4 L255.2 94.4 L256.2 93.4 L257.2 92.4 L258.2 91.4 L259.2 90.4 L260.2 89.5 L261.2 88.5 L262.2 87.5 L263.2 86.6 L264.2 85.6 L265.2 84.7 L266.2 83.7 L267.2 82.8 L268.2 81.9 L269.2 81.0 L270.2 80.1 L271.2 79.2 L272.2 78.3 L273.2 77.4 L274.2 76.6 L275.2 75.7 L276.2 74.9 L277.2 74.1 L278.2 73.2 L279.2 72.4 L280.2 71.6 L281.2 70.9 L282.2 70.1 L283.2 69.3 L284.2 68.6 L285.2 67.9 L286.2 67.2 L287.2 66.5 L288.2 65.8 L289.2 65.1 L290.2 64.4 L291.2 63.8 L292.2 63.2 L293.2 62.6 L294.2 62.0 L295.2 61.4 L296.2 60.9 L297.2 60.4 L298.2 59.9 L299.2 59.4 L300.2 59.0 L301.2 58.5 L302.2 58.1 L303.2 57.8 L304.2 57.4 L305.2 57.1 L306.2 56.8 L307.2 56.5 L308.2 56.3 L309.2 56.0 L310.2 55.8 L311.2 55.7 L312.2 55.5 L313.2 55.4 L314.2 55.3 L315.2 55.2 L316.2 55.2 L317.2 55.2 L318.2 55.2 L319.2 55.2 L320.2 55.3 L321.2 55.4 L322.2 55.5 L323.2 55.7 L324.2 55.9 L325.2 56.1 L326.2 56.4 L327.2 56.6 L328.2 56.9 L329.2 57.3 L330.2 57.6 L331.2 58.0 L332.2 58.4 L333.2 58.9 L334.2 59.3 L335.2 59.8 L336.2 60.3 L337.2 60.9 L338.2 61.4 L339.2 62.0 L340.2 62.6 L341.2 63.2 L342.2 63.8 L343.2 64.4 L344.2 65.1 L345.2 65.8 L346.2 66.5 L347.2 67.2 L348.2 67.9 L349.2 68.6 L350.2 69.3 L351.2 70.1 L352.2 70.8 L353.2 71.6 L354.2 72.4 L355.2 73.2 L356.2 73.9 L357.2 74.7 L358.2 75.5 L359.2 76.3 L360.2 77.1 L361.2 77.9 L362.2 78.7 L363.2 79.5 L364.2 80.3 L365.2 81.1 L366.2 81.9 L367.2 82.7 L368.2 83.5 L369.2 84.3 L370.2 85.0 L371.2 85.8 L372.2 86.6 L373.2 87.4 L374.2 88.2 L375.2 88.9 L376.2 89.7 L377.2 90.5 L378.2 91.3 L379.2 92.0 L380.2 92.8 L381.2 93.6 L382.2 94.4 L383.2 95.1 L384.2 95.9 L385.2 96.7 L386.2 97.4 L387.2 98.2 L388.2 99.0 L389.2 99.8 L390.2 100.5 L391.2 101.3 L392.2 102.1 L393.2 102.9 L394.2 103.7 L395.2 104.5 L396.2 105.2 L397.2 106.0 L398.2 106.8 L399.2 107.6 L400.2 108.4 L401.2 109.2 L402.2 110.0 L403.2 110.8 L404.2 111.6 L405.2 112.5 L406.2 113.3 L407.2 114.1 L408.2 114.9 L409.2 115.8 L410.2 116.6 L411.2 117.4 L412.2 118.3 L413.2 119.1 L414.2 120.0 L415.2 120.8 L416.2 121.7 L417.2 122.6 L418.2 123.4 L419.2 124.3 L420.2 125.2 L421.2 126.1 L422.2 127.0 L423.2 127.8 L424.2 128.7 L425.2 129.6 L426.2 130.5 L427.2 131.4 L428.2 132.3 L429.2 133.3 L430.2 134.2 L431.2 135.1 L432.2 136.0 L433.2 136.9 L434.2 137.9 L435.2 138.8 L436.2 139.7 L437.2 140.6 L438.2 141.6 L439.2 142.5 L440.2 143.5 L441.2 144.4 L442.2 145.3 L443.2 146.3 L444.2 147.2 L445.2 148.2 L446.2 149.1 L447.2 150.1 L448.2 151.1 L449.2 152.0 L450.2 153.0 L451.2 153.9 L452.2 154.9 L453.2 155.9 L454.2 156.8 L455.2 157.8 L456.2 158.7 L457.2 159.7 L458.2 160.7 L459.2 161.7 L460.2 162.6 L461.2 163.6 L462.2 164.6 L463.2 165.5 L464.2 166.5 L465.2 167.5 L466.2 168.5 L467.2 169.4 L468.2 170.4 L469.2 171.4 L470.2 172.4 L471.2 173.3 L472.2 174.3 L473.2 175.3 L474.2 176.2 L475.2 177.2 L476.2 178.2 L477.2 179.2 L478.2 180.1 L479.2 181.1 L480.2 182.1 L481.2 183.0 L482.2 184.0 L483.2 185.0 L484.2 185.9 L485.2 186.9 L486.2 187.9 L487.2 188.8 L488.2 189.8 L489.2 190.7 L490.2 191.7 L491.2 192.7 L492.2 193.6 L493.2 194.6 L494.2 195.5 L495.2 196.5 L496.2 197.4 L497.2 198.3 L498.2 199.3 L499.2 200.2 L500.2 201.2 L501.2 202.1 L502.2 203.0 L503.2 204.0 L504.2 204.9 L505.2 205.8 L506.2 206.7 L507.2 207.6 L508.2 208.6 L509.2 209.5 L510.2 210.4 L511.2 211.3 L512.2 212.2 L513.2 213.1 L514.2 214.0 L515.2 214.9 L516.2 215.7 L517.2 216.6 L518.2 217.5 L519.2 218.4 L520.2 219.3 L521.2 220.1 L522.2 221.0 L523.2 221.8 L524.2 222.7 L525.2 223.5 L526.2 224.4 L527.2 225.2 L528.2 226.1 L529.2 226.9 L530.2 227.7 L531.2 228.5 L532.2 229.4 L533.2 230.2 L534.2 231.0 L535.2 231.8 L536.2 232.6 L537.2 233.4 L538.2 234.1 L539.2 234.9 L540.2 235.7 L541.2 236.4 L542.2 237.2 L543.2 238.0 L544.2 238.7 L545.2 239.4 L546.2 240.2 L547.2 240.9 L548.2 241.6 L549.2 242.3 L550.2 243.0 L551.2 243.7 L552.2 244.4 L553.2 245.1 L554.2 245.8 L555.2 246.5 L556.2 247.1 L557.2 247.8 L558.2 248.4 L559.2 249.1 L560.2 249.7 L561.2 250.3 L562.2 250.9 L563.2 251.6 L564.2 252.2 L565.2 252.8 L566.2 253.4 L567.2 253.9 L568.2 254.5 L569.2 255.1 L570.2 255.7 L571.2 256.3 L572.2 256.9 L573.2 257.4 L574.2 258.0 L575.2 258.6 L576.2 259.1 L577.2 259.7 L578.2 260.3 L579.2 260.8 L580.2 261.4 L581.2 262.0 L582.2 262.5 L583.2 263.1 L584.2 263.7 L585.2 264.3 L586.2 264.8 L587.2 265.4 L588.2 266.0 L589.2 266.6 L590.2 267.2 L591.2 267.8 L591.4 267.9" fill="none" stroke="#000" stroke-width="1.85"  stroke-linejoin="round"/>
<circle cx="184.8" cy="146" r="4.4" fill="#ff0000" stroke="#c00000" stroke-width="0.7"/>
<path d="M184.8 143.2V148.8M183.0 143.2h3.6M183.0 148.8h3.6" stroke="#8a0000" stroke-width="0.8"/>
<circle cx="194.2" cy="146" r="4.4" fill="#ff0000" stroke="#c00000" stroke-width="0.7"/>
<path d="M194.2 143.2V148.8M192.39999999999998 143.2h3.6M192.39999999999998 148.8h3.6" stroke="#8a0000" stroke-width="0.8"/>
<circle cx="203.3" cy="142" r="4.4" fill="#ff0000" stroke="#c00000" stroke-width="0.7"/>
<path d="M203.3 139.2V144.8M201.5 139.2h3.6M201.5 144.8h3.6" stroke="#8a0000" stroke-width="0.8"/>
<circle cx="213.3" cy="146.7" r="4.4" fill="#ff0000" stroke="#c00000" stroke-width="0.7"/>
<path d="M213.3 143.89999999999998V149.5M211.5 143.89999999999998h3.6M211.5 149.5h3.6" stroke="#8a0000" stroke-width="0.8"/>
<circle cx="222.9" cy="137.3" r="4.4" fill="#ff0000" stroke="#c00000" stroke-width="0.7"/>
<path d="M222.9 134.5V140.10000000000002M221.1 134.5h3.6M221.1 140.10000000000002h3.6" stroke="#8a0000" stroke-width="0.8"/>
<circle cx="233.3" cy="138.3" r="4.4" fill="#ff0000" stroke="#c00000" stroke-width="0.7"/>
<path d="M233.3 135.5V141.10000000000002M231.5 135.5h3.6M231.5 141.10000000000002h3.6" stroke="#8a0000" stroke-width="0.8"/>
<path d="M305.8 59.7V72.6M302.8 59.7h6M302.8 72.6h6" stroke="#888" stroke-width="1.1" fill="none"/>
<path d="M320.1 61.6V66.3M317.1 61.6h6M317.1 66.3h6" stroke="#888" stroke-width="1.1" fill="none"/>
<rect x="301.8" y="62.2" width="8" height="8" fill="#0000ff" stroke="#0000b0" stroke-width="0.6"/>
<rect x="316.1" y="57.6" width="8" height="8" fill="#0000ff" stroke="#0000b0" stroke-width="0.6"/>
<rect x="328.7" y="50.2" width="8" height="8" fill="#0000ff" stroke="#0000b0" stroke-width="0.6"/>
<rect x="341.1" y="51.3" width="8" height="8" fill="#0000ff" stroke="#0000b0" stroke-width="0.6"/>
<rect x="356.7" y="63.5" width="8" height="8" fill="#0000ff" stroke="#0000b0" stroke-width="0.6"/>
<rect x="370.4" y="80.2" width="8" height="8" fill="#0000ff" stroke="#0000b0" stroke-width="0.6"/>
<rect x="383.3" y="91.3" width="8" height="8" fill="#0000ff" stroke="#0000b0" stroke-width="0.6"/>
<rect x="396.5" y="102.5" width="8" height="8" fill="#0000ff" stroke="#0000b0" stroke-width="0.6"/>
<rect x="410.5" y="118.0" width="8" height="8" fill="#0000ff" stroke="#0000b0" stroke-width="0.6"/>
<rect x="425.5" y="128.5" width="8" height="8" fill="#0000ff" stroke="#0000b0" stroke-width="0.6"/>
<rect x="442.0" y="147.2" width="8" height="8" fill="#0000ff" stroke="#0000b0" stroke-width="0.6"/>
<rect x="461.2" y="165.3" width="8" height="8" fill="#0000ff" stroke="#0000b0" stroke-width="0.6"/>
<rect x="485.0" y="186.6" width="8" height="8" fill="#0000ff" stroke="#0000b0" stroke-width="0.6"/>
<rect x="528.6" y="227.5" width="8" height="8" fill="#0000ff" stroke="#0000b0" stroke-width="0.6"/>
<path d="M346.4 63.300000000000004L351 71.5L355.6 63.300000000000004Z" fill="#00ff00" stroke="#00a000" stroke-width="0.6"/>
<path d="M426.0 140.9L430.6 149.1L435.20000000000005 140.9Z" fill="#00ff00" stroke="#00a000" stroke-width="0.6"/>
<path d="M504.29999999999995 197.70000000000002L508.9 205.9L513.5 197.70000000000002Z" fill="#00ff00" stroke="#00a000" stroke-width="0.6"/>
<path d="M581.3 242.8L585.9 251.0L590.5 242.8Z" fill="#00ff00" stroke="#00a000" stroke-width="0.6"/>
<path d="M508.9 189.3V205M505.9 189.3h6M505.9 205h6" stroke="#888" stroke-width="1.1" fill="none"/>
<path d="M585.9 237.4V254.7M582.9 237.4h6M582.9 254.7h6" stroke="#888" stroke-width="1.1" fill="none"/>
<path d="M500.8 176.29999999999998L506.1 181.6L500.8 186.9L495.5 181.6Z" fill="#bb55ee" stroke="#8a3ab0" stroke-width="0.6"/>
<path d="M537.5 185.5L542.8 190.8L537.5 196.10000000000002L532.2 190.8Z" fill="#bb55ee" stroke="#8a3ab0" stroke-width="0.6"/>
<path d="M574.7 226.39999999999998L580.0 231.7L574.7 237.0L569.4000000000001 231.7Z" fill="#bb55ee" stroke="#8a3ab0" stroke-width="0.6"/>
<path d="M500.8 172.8V190.6M497.8 172.8h6M497.8 190.6h6" stroke="#888" stroke-width="1.1" fill="none"/>
<path d="M537.5 178.3V203.3M534.5 178.3h6M534.5 203.3h6" stroke="#888" stroke-width="1.1" fill="none"/>
<path d="M574.7 206.7V255.2M571.7 206.7h6M571.7 255.2h6" stroke="#888" stroke-width="1.1" fill="none"/>
<path d="M357.8 78.4L366.2 83.2L357.8 88.0Z" fill="#550088" stroke="#330055" stroke-width="0.6"/>
<path d="M409.8 111.7L418.2 116.5L409.8 121.3Z" fill="#550088" stroke="#330055" stroke-width="0.6"/>
<path d="M570.1999999999999 234.39999999999998L578.6 239.2L570.1999999999999 244.0Z" fill="#550088" stroke="#330055" stroke-width="0.6"/>
<path d="M587.3 251.2L595.7 256L587.3 260.8Z" fill="#550088" stroke="#330055" stroke-width="0.6"/>
<path d="M362 59V108M359.0 59h6M359.0 108h6" stroke="#888" stroke-width="1.1" fill="none"/>
<path d="M414 91.5V140M411.0 91.5h6M411.0 140h6" stroke="#888" stroke-width="1.1" fill="none"/>
<path d="M574.4 206.7V272M571.4 206.7h6M571.4 272h6" stroke="#888" stroke-width="1.1" fill="none"/>
<path d="M330.5 29.700000000000003L321.9 34.2L330.5 38.7Z" fill="#ff8080" stroke="#d06060" stroke-width="0.6"/>
<path d="M341.90000000000003 54.6L333.3 59.1L341.90000000000003 63.6Z" fill="#ff8080" stroke="#d06060" stroke-width="0.6"/>
<path d="M359.90000000000003 63.0L351.3 67.5L359.90000000000003 72.0Z" fill="#ff8080" stroke="#d06060" stroke-width="0.6"/>
<path d="M514.8 177.5L506.2 182L514.8 186.5Z" fill="#ff8080" stroke="#d06060" stroke-width="0.6"/>
<path d="M326.2 26.2V42.5M323.2 26.2h6M323.2 42.5h6" stroke="#888" stroke-width="1.1" fill="none"/>
<path d="M337.6 54V67.1M334.6 54h6M334.6 67.1h6" stroke="#888" stroke-width="1.1" fill="none"/>
<path d="M355.6 59.2V73.3M352.6 59.2h6M352.6 73.3h6" stroke="#888" stroke-width="1.1" fill="none"/>
<path d="M510.5 178V186M507.5 178h6M507.5 186h6" stroke="#888" stroke-width="1.1" fill="none"/>
<path d="M283.29999999999995 68.39999999999999L287.9 60.199999999999996L292.5 68.39999999999999Z" fill="#cc6600" stroke="#8a4400" stroke-width="0.6"/>
<path d="M310.29999999999995 59.1L314.9 50.9L319.5 59.1Z" fill="#cc6600" stroke="#8a4400" stroke-width="0.6"/>
<path d="M337.4 54.4L342 46.199999999999996L346.6 54.4Z" fill="#cc6600" stroke="#8a4400" stroke-width="0.6"/>
<path d="M365.29999999999995 85.8L369.9 77.60000000000001L374.5 85.8Z" fill="#cc6600" stroke="#8a4400" stroke-width="0.6"/>
<path d="M391.9 116.1L396.5 107.9L401.1 116.1Z" fill="#cc6600" stroke="#8a4400" stroke-width="0.6"/>
<path d="M418.79999999999995 141.0L423.4 132.8L428.0 141.0Z" fill="#cc6600" stroke="#8a4400" stroke-width="0.6"/>
<path d="M446.4 169.9L451 161.70000000000002L455.6 169.9Z" fill="#cc6600" stroke="#8a4400" stroke-width="0.6"/>
<path d="M473.79999999999995 188.9L478.4 180.70000000000002L483.0 188.9Z" fill="#cc6600" stroke="#8a4400" stroke-width="0.6"/>
<path d="M501.09999999999997 217.29999999999998L505.7 209.1L510.3 217.29999999999998Z" fill="#cc6600" stroke="#8a4400" stroke-width="0.6"/>
<path d="M528.1999999999999 229.2L532.8 221.0L537.4 229.2Z" fill="#cc6600" stroke="#8a4400" stroke-width="0.6"/>
<path d="M287.9 54.2V75.3M284.9 54.2h6M284.9 75.3h6" stroke="#888" stroke-width="1.1" fill="none"/>
<path d="M314.9 47.4V63.8M311.9 47.4h6M311.9 63.8h6" stroke="#888" stroke-width="1.1" fill="none"/>
<path d="M342 45V57M339.0 45h6M339.0 57h6" stroke="#888" stroke-width="1.1" fill="none"/>
<path d="M369.9 75.7V87.7M366.9 75.7h6M366.9 87.7h6" stroke="#888" stroke-width="1.1" fill="none"/>
<path d="M396.5 112V118.5M393.5 112h6M393.5 118.5h6" stroke="#888" stroke-width="1.1" fill="none"/>
<path d="M423.4 136.9V145.8M420.4 136.9h6M420.4 145.8h6" stroke="#888" stroke-width="1.1" fill="none"/>
<path d="M451 157.5V175.9M448.0 157.5h6M448.0 175.9h6" stroke="#888" stroke-width="1.1" fill="none"/>
<path d="M478.4 170V201.7M475.4 170h6M475.4 201.7h6" stroke="#888" stroke-width="1.1" fill="none"/>
<path d="M505.7 189.3V238.3M502.7 189.3h6M502.7 238.3h6" stroke="#888" stroke-width="1.1" fill="none"/>
<path d="M532.8 190.8V261.4M529.8 190.8h6M529.8 261.4h6" stroke="#888" stroke-width="1.1" fill="none"/>
</g>
<g clip-path="url(#cb)">
<clipPath id="bc193"><rect x="193.2" y="0" width="406.8" height="727"/></clipPath>
<path d="M190.0 510.2 L190.5 510.1 L191.0 510.0 L191.5 509.8 L192.1 509.7 L192.6 509.6 L193.1 509.4 L193.6 509.3 L194.2 509.1 L194.7 508.9 L195.2 508.8 L195.7 508.6 L196.3 508.4 L196.8 508.2 L197.3 508.0 L197.9 507.8 L198.4 507.6 L198.9 507.4 L199.4 507.2 L199.9 507.0 L200.5 506.8 L201.0 506.6 L201.5 506.3 L202.0 506.1 L202.6 505.9 L203.1 505.6 L203.6 505.4 L204.1 505.1 L204.6 504.8 L205.2 504.6 L205.7 504.3 L206.2 504.0 L206.7 503.8 L207.2 503.5 L207.8 503.2 L208.3 502.9 L208.8 502.6 L209.3 502.3 L209.8 502.0 L210.4 501.7 L210.9 501.4 L211.4 501.1 L211.9 500.8 L212.4 500.4 L212.9 500.1 L213.5 499.8 L214.0 499.4 L214.5 499.1 L215.0 498.7 L215.5 498.4 L216.0 498.0 L216.6 497.7 L217.1 497.3 L217.6 496.9 L218.1 496.6 L218.6 496.2 L219.1 495.8 L219.6 495.4 L220.1 495.0 L220.7 494.6 L221.2 494.2 L221.7 493.8 L222.2 493.4 L222.7 493.0 L223.2 492.6 L223.7 492.2 L224.2 491.8 L224.8 491.3 L225.3 490.9 L225.8 490.5 L226.3 490.0 L226.8 489.6 L227.3 489.1 L227.8 488.7 L228.3 488.2 L228.8 487.7 L229.3 487.3 L229.9 486.8 L230.4 486.3 L230.9 485.9 L231.4 485.4 L231.9 484.9 L232.4 484.4 L232.9 483.9 L233.4 483.4 L233.9 482.9 L234.4 482.4 L234.9 481.9 L235.4 481.4 L236.0 480.9 L236.5 480.3 L237.0 479.8 L237.5 479.3 L238.0 478.7 L238.5 478.2 L239.0 477.7 L239.5 477.1 L240.0 476.6 L240.5 476.0 L241.0 475.5 L241.5 474.9 L242.0 474.3 L242.5 473.8 L243.0 473.2 L243.6 472.6 L244.1 472.0 L244.6 471.5 L245.1 470.9 L245.6 470.3 L246.1 469.7 L246.6 469.1 L247.1 468.5 L247.6 467.9 L248.1 467.3 L248.6 466.7 L249.1 466.1 L249.6 465.4 L250.1 464.8 L250.6 464.2 L251.1 463.6 L251.6 463.0 L252.1 462.4 L252.6 461.7 L253.1 461.1 L253.6 460.5 L254.1 459.8 L254.6 459.2 L255.1 458.6 L255.6 457.9 L256.1 457.3 L256.6 456.6 L257.0 456.0 L257.5 455.4 L258.0 454.7 L258.5 454.1 L259.0 453.5 L259.5 452.8 L260.0 452.2 L260.5 451.5 L261.0 450.9 L261.5 450.3 L262.0 449.6 L262.4 449.0 L262.9 448.4 L263.4 447.7 L263.9 447.1 L264.4 446.5 L264.9 445.8 L265.4 445.2 L265.9 444.6 L266.4 444.0 L266.8 443.3 L267.3 442.7 L267.8 442.1 L268.3 441.5 L268.8 440.9 L269.3 440.3 L269.8 439.7 L270.3 439.1 L270.7 438.5 L271.2 437.9 L271.7 437.3 L272.2 436.7 L272.7 436.1 L273.2 435.5 L273.7 434.9 L274.1 434.4 L274.6 433.8 L275.1 433.2 L275.6 432.7 L276.1 432.1 L276.6 431.6 L277.0 431.0 L277.5 430.5 L278.0 429.9 L278.5 429.4 L279.0 428.9 L279.5 428.4 L279.9 427.9 L280.4 427.3 L280.9 426.8 L281.4 426.3 L281.9 425.8 L282.4 425.4 L282.8 424.9 L283.3 424.4 L283.8 423.9 L284.3 423.5 L284.7 423.0 L285.2 422.6 L285.7 422.1 L286.2 421.7 L286.6 421.2 L287.1 420.8 L287.6 420.4 L288.0 420.0 L288.5 419.6 L289.0 419.2 L289.5 418.8 L289.9 418.5 L290.4 418.1 L290.9 417.7 L291.3 417.4 L291.8 417.0 L292.3 416.7 L292.8 416.4 L293.2 416.1 L293.7 415.8 L294.2 415.5 L294.6 415.2 L295.1 414.9 L295.6 414.6 L296.0 414.4 L296.5 414.1 L297.0 413.9 L297.4 413.7 L297.9 413.4 L298.3 413.2 L298.8 413.0 L299.3 412.8 L299.7 412.7 L300.2 412.5 L300.7 412.3 L301.1 412.2 L301.6 412.1 L302.1 411.9 L302.5 411.8 L303.0 411.7 L303.4 411.6 L303.9 411.5 L304.4 411.4 L304.8 411.4 L305.3 411.3 L305.8 411.2 L306.3 411.2 L306.7 411.2 L307.2 411.1 L307.7 411.1 L308.2 411.1 L308.6 411.1 L309.1 411.1 L309.6 411.2 L310.1 411.2 L310.5 411.3 L311.0 411.3 L311.5 411.4 L312.0 411.5 L312.4 411.6 L312.9 411.7 L313.4 411.8 L313.9 411.9 L314.4 412.0 L314.9 412.1 L315.3 412.3 L315.8 412.4 L316.3 412.6 L316.8 412.7 L317.3 412.9 L317.7 413.1 L318.2 413.3 L318.7 413.5 L319.2 413.7 L319.7 413.9 L320.2 414.1 L320.7 414.3 L321.2 414.5 L321.6 414.8 L322.1 415.0 L322.6 415.3 L323.1 415.5 L323.6 415.8 L324.1 416.0 L324.6 416.3 L325.1 416.6 L325.6 416.9 L326.0 417.2 L326.5 417.5 L327.0 417.8 L327.5 418.1 L328.0 418.4 L328.5 418.7 L329.0 419.1 L329.5 419.4 L330.0 419.7 L330.5 420.1 L331.0 420.4 L331.5 420.8 L332.0 421.1 L332.5 421.5 L333.0 421.9 L333.4 422.3 L333.9 422.6 L334.4 423.0 L334.9 423.4 L335.4 423.8 L335.9 424.2 L336.4 424.6 L336.9 425.0 L337.4 425.4 L337.9 425.8 L338.4 426.2 L338.9 426.7 L339.4 427.1 L339.9 427.5 L340.4 427.9 L340.9 428.4 L341.4 428.8 L341.9 429.2 L342.4 429.7 L342.9 430.1 L343.4 430.6 L343.9 431.0 L344.4 431.5 L344.9 431.9 L345.4 432.4 L345.9 432.9 L346.4 433.3 L346.9 433.8 L347.4 434.3 L347.9 434.7 L348.4 435.2 L348.9 435.7 L349.4 436.2 L349.9 436.6 L350.4 437.1 L350.9 437.6 L351.4 438.1 L351.9 438.6 L352.4 439.1 L352.9 439.6 L353.4 440.1 L353.9 440.5 L354.4 441.0 L354.9 441.5 L355.4 442.0 L355.9 442.5 L356.4 443.0 L356.9 443.5 L357.4 444.0 L357.9 444.5 L358.4 445.0 L358.9 445.5 L359.4 446.1 L359.9 446.6 L360.4 447.1 L360.9 447.6 L361.4 448.1 L361.9 448.6 L362.4 449.1 L362.9 449.6 L363.4 450.1 L363.9 450.6 L364.4 451.1 L364.9 451.7 L365.4 452.2 L365.9 452.7 L366.4 453.2 L366.9 453.7 L367.4 454.2 L367.9 454.7 L368.4 455.2 L368.9 455.8 L369.4 456.3 L369.9 456.8 L370.4 457.3 L370.9 457.8 L371.4 458.3 L371.9 458.8 L372.4 459.3 L372.9 459.8 L373.4 460.3 L373.9 460.8 L374.4 461.3 L374.9 461.9 L375.4 462.4 L375.9 462.9 L376.4 463.4 L376.9 463.9 L377.4 464.4 L377.9 464.9 L378.4 465.4 L378.9 465.8 L379.4 466.3 L379.9 466.8 L380.4 467.3 L380.9 467.8 L381.4 468.3 L381.9 468.8 L382.4 469.3 L382.9 469.8 L383.4 470.2 L383.9 470.7 L384.4 471.2 L384.9 471.7 L385.4 472.1 L385.9 472.6 L386.4 473.1 L386.9 473.5 L387.4 474.0 L388.0 474.5 L388.5 474.9 L389.0 475.4 L389.5 475.8 L390.0 476.3 L390.5 476.7 L391.0 477.2 L391.5 477.6 L392.0 478.0 L392.5 478.5 L393.0 478.9 L393.5 479.3 L394.0 479.8 L394.5 480.2 L395.0 480.6 L395.5 481.0 L396.0 481.4 L396.5 481.9 L397.0 482.3 L397.5 482.7 L398.0 483.1 L398.5 483.5 L399.0 483.9 L399.5 484.2 L400.0 484.6 L400.5 485.0 L401.1 485.4 L401.6 485.8 L402.1 486.1 L402.6 486.5 L403.1 486.9 L403.6 487.2 L404.1 487.6 L404.6 487.9 L405.1 488.3 L405.6 488.6 L406.1 488.9 L406.6 489.3 L407.1 489.6 L407.6 489.9 L408.1 490.2 L408.6 490.6 L409.1 490.9 L409.7 491.2 L410.2 491.5 L410.7 491.8 L411.2 492.1 L411.7 492.4 L412.2 492.7 L412.7 492.9 L413.2 493.2 L413.7 493.5 L414.2 493.8 L414.7 494.1 L415.2 494.3 L415.7 494.6 L416.2 494.9 L416.7 495.1 L417.2 495.4 L417.7 495.6 L418.2 495.9 L418.7 496.2 L419.2 496.4 L419.7 496.7 L420.2 496.9 L420.7 497.1 L421.3 497.4 L421.8 497.6 L422.3 497.9 L422.8 498.1 L423.3 498.3 L423.8 498.6 L424.3 498.8 L424.8 499.0 L425.3 499.3 L425.8 499.5 L426.3 499.7 L426.8 499.9 L427.3 500.2 L427.8 500.4 L428.3 500.6 L428.8 500.8 L429.3 501.0 L429.8 501.3 L430.3 501.5 L430.8 501.7 L431.3 501.9 L431.8 502.1 L432.3 502.3 L432.8 502.6 L433.3 502.8 L433.8 503.0 L434.3 503.2 L434.8 503.4 L435.3 503.6 L435.8 503.9 L436.3 504.1 L436.8 504.3 L437.3 504.5 L437.8 504.7 L438.3 504.9 L438.8 505.2 L439.3 505.4 L439.8 505.6 L440.3 505.8 L440.8 506.0 L441.3 506.3 L441.8 506.5 L442.3 506.7 L442.8 506.9 L443.3 507.2 L443.8 507.4 L444.3 507.6 L444.8 507.9 L445.3 508.1 L445.8 508.3 L446.3 508.6 L446.8 508.8 L447.3 509.0 L447.8 509.3 L448.3 509.5 L448.8 509.8 L449.3 510.0 L449.8 510.3 L450.3 510.5 L450.8 510.8 L451.3 511.0 L451.8 511.3 L452.2 511.6 L452.7 511.8 L453.2 512.1 L453.7 512.4 L454.2 512.6 L454.7 512.9 L455.2 513.2 L455.7 513.5 L456.2 513.8 L456.7 514.1 L457.2 514.3 L457.7 514.6 L458.2 514.9 L458.7 515.2 L459.2 515.5 L459.7 515.8 L460.2 516.1 L460.7 516.4 L461.2 516.7 L461.7 517.0 L462.2 517.3 L462.7 517.7 L463.2 518.0 L463.7 518.3 L464.2 518.6 L464.7 518.9 L465.2 519.2 L465.7 519.5 L466.2 519.9 L466.7 520.2 L467.2 520.5 L467.7 520.8 L468.2 521.1 L468.7 521.5 L469.2 521.8 L469.7 522.1 L470.2 522.4 L470.7 522.8 L471.2 523.1 L471.7 523.4 L472.2 523.7 L472.7 524.0 L473.2 524.4 L473.7 524.7 L474.2 525.0 L474.7 525.3 L475.2 525.7 L475.7 526.0 L476.2 526.3 L476.7 526.6 L477.2 527.0 L477.7 527.3 L478.2 527.6 L478.7 527.9 L479.2 528.2 L479.7 528.5 L480.2 528.9 L480.7 529.2 L481.2 529.5 L481.7 529.8 L482.2 530.1 L482.7 530.4 L483.2 530.7 L483.7 531.0 L484.2 531.3 L484.7 531.6 L485.3 531.9 L485.8 532.2 L486.3 532.5 L486.8 532.8 L487.3 533.1 L487.8 533.4 L488.3 533.7 L488.8 534.0 L489.3 534.3 L489.8 534.6 L490.3 534.8 L490.8 535.1 L491.3 535.4 L491.8 535.7 L492.3 535.9 L492.8 536.2 L493.3 536.5 L493.8 536.7 L494.3 537.0 L494.8 537.3 L495.3 537.5 L495.8 537.8 L496.3 538.1 L496.8 538.3 L497.3 538.6 L497.8 538.9 L498.3 539.1 L498.8 539.4 L499.3 539.7 L499.8 539.9 L500.3 540.2 L500.8 540.5 L501.3 540.7 L501.8 541.0 L502.3 541.3 L502.8 541.5 L503.3 541.8 L503.8 542.1 L504.3 542.4 L504.8 542.7 L505.3 542.9 L505.8 543.2 L506.3 543.5 L506.8 543.8 L507.3 544.1 L507.8 544.4 L508.3 544.7 L508.8 544.9 L509.3 545.2 L509.8 545.5 L510.3 545.8 L510.8 546.1 L511.3 546.4 L511.8 546.8 L512.3 547.1 L512.8 547.4 L513.3 547.7 L513.8 548.0 L514.3 548.3 L514.8 548.6 L515.3 548.9 L515.8 549.3 L516.3 549.6 L516.8 549.9 L517.3 550.2 L517.8 550.5 L518.3 550.9 L518.8 551.2 L519.3 551.5 L519.8 551.9 L520.3 552.2 L520.8 552.5 L521.3 552.8 L521.8 553.2 L522.3 553.5 L522.8 553.9 L523.3 554.2 L523.8 554.5 L524.3 554.9 L524.8 555.2 L525.3 555.5 L525.8 555.9 L526.3 556.2 L526.8 556.6 L527.3 556.9 L527.8 557.3 L528.3 557.6 L528.8 558.0 L529.3 558.3 L529.8 558.7 L530.3 559.0 L530.8 559.4 L531.3 559.7 L531.8 560.1 L532.3 560.4 L532.8 560.8 L533.3 561.1 L533.8 561.5 L534.3 561.8 L534.8 562.2 L535.3 562.5 L535.8 562.9 L536.3 563.2 L536.8 563.6 L537.3 563.9 L537.8 564.3 L538.3 564.6 L538.8 565.0 L539.3 565.4 L539.8 565.7 L540.3 566.1 L540.8 566.4 L541.3 566.8 L541.8 567.1 L542.3 567.5 L542.8 567.8 L543.3 568.2 L543.8 568.5 L544.3 568.9 L544.8 569.3 L545.3 569.6 L545.8 570.0 L546.3 570.3 L546.8 570.7 L547.3 571.0 L547.8 571.4 L548.3 571.7 L548.8 572.1 L549.3 572.4 L549.8 572.8 L550.3 573.1 L550.8 573.5 L551.3 573.8 L551.8 574.2 L552.3 574.5 L552.8 574.8 L553.3 575.2 L553.8 575.5 L554.3 575.9 L554.8 576.2 L555.3 576.6 L555.8 576.9 L556.3 577.2 L556.8 577.6 L557.3 577.9 L557.8 578.2 L558.3 578.6 L558.8 578.9 L559.3 579.2 L559.8 579.6 L560.3 579.9 L560.8 580.2 L561.3 580.6 L561.8 580.9 L562.3 581.2 L562.8 581.5 L563.3 581.8 L563.8 582.2 L564.3 582.5 L564.8 582.8 L565.3 583.1 L565.8 583.4 L566.3 583.7 L566.8 584.1 L567.3 584.4 L567.8 584.7 L568.3 585.0 L568.9 585.3 L569.4 585.6 L569.9 585.9 L570.4 586.2 L570.9 586.5 L571.4 586.8 L571.9 587.1 L572.4 587.3 L572.9 587.6 L573.4 587.9 L573.9 588.2 L574.4 588.5 L574.9 588.8 L575.4 589.0 L575.9 589.3 L576.4 589.6 L576.9 589.9 L577.4 590.1 L577.9 590.4 L578.4 590.7 L578.9 590.9 L579.4 591.2 L579.9 591.4 L580.4 591.7 L580.9 591.9 L581.4 592.2 L581.9 592.4 L582.4 592.7 L582.9 592.9 L583.4 593.2 L583.9 593.4 L584.4 593.6 L584.9 593.9 L585.4 594.1 L585.9 594.3 L586.4 594.5 L586.9 594.8 L587.5 595.0 L588.0 595.2 L588.5 595.4 L589.0 595.6 L589.5 595.8 L590.0 596.0 L590.5 596.2 L591.0 596.4 L591.5 596.6 L592.0 596.8 L592.5 597.0 L593.0 597.1 L593.5 597.3 L594.0 597.5 L594.5 597.7 L595.0 597.8 L595.2 597.9 L595.6 596.7 L595.4 596.7 L594.9 596.5 L594.4 596.3 L593.9 596.2 L593.4 596.0 L592.9 595.8 L592.4 595.6 L591.9 595.4 L591.4 595.2 L590.9 595.0 L590.4 594.8 L589.9 594.6 L589.4 594.4 L588.9 594.2 L588.4 594.0 L587.9 593.8 L587.5 593.6 L587.0 593.4 L586.5 593.2 L586.0 592.9 L585.5 592.7 L585.0 592.5 L584.5 592.2 L584.0 592.0 L583.5 591.8 L583.0 591.5 L582.5 591.3 L582.0 591.0 L581.5 590.8 L581.0 590.5 L580.5 590.3 L580.0 590.0 L579.5 589.8 L579.0 589.5 L578.5 589.2 L578.0 589.0 L577.5 588.7 L577.0 588.4 L576.5 588.2 L576.0 587.9 L575.5 587.6 L575.0 587.3 L574.5 587.1 L574.0 586.8 L573.5 586.5 L573.0 586.2 L572.5 585.9 L572.0 585.6 L571.5 585.3 L571.0 585.0 L570.5 584.7 L570.0 584.4 L569.5 584.1 L569.1 583.8 L568.6 583.5 L568.1 583.2 L567.6 582.9 L567.1 582.6 L566.6 582.3 L566.1 582.0 L565.6 581.6 L565.1 581.3 L564.6 581.0 L564.1 580.7 L563.6 580.4 L563.1 580.0 L562.6 579.7 L562.1 579.4 L561.6 579.1 L561.1 578.7 L560.6 578.4 L560.1 578.1 L559.6 577.7 L559.1 577.4 L558.6 577.1 L558.1 576.7 L557.6 576.4 L557.1 576.1 L556.6 575.7 L556.1 575.4 L555.6 575.0 L555.1 574.7 L554.6 574.4 L554.1 574.0 L553.6 573.7 L553.1 573.3 L552.6 573.0 L552.1 572.6 L551.6 572.3 L551.1 571.9 L550.6 571.6 L550.1 571.2 L549.6 570.9 L549.1 570.5 L548.6 570.2 L548.1 569.8 L547.6 569.5 L547.1 569.1 L546.6 568.8 L546.1 568.4 L545.6 568.1 L545.1 567.7 L544.6 567.3 L544.1 567.0 L543.6 566.6 L543.1 566.3 L542.6 565.9 L542.1 565.6 L541.6 565.2 L541.1 564.9 L540.6 564.5 L540.1 564.1 L539.6 563.8 L539.1 563.4 L538.6 563.1 L538.1 562.7 L537.6 562.4 L537.1 562.0 L536.6 561.6 L536.1 561.3 L535.6 560.9 L535.1 560.6 L534.6 560.2 L534.1 559.9 L533.6 559.5 L533.1 559.2 L532.6 558.8 L532.1 558.5 L531.6 558.1 L531.1 557.8 L530.6 557.4 L530.1 557.0 L529.6 556.7 L529.1 556.3 L528.6 556.0 L528.1 555.7 L527.6 555.3 L527.1 555.0 L526.6 554.6 L526.1 554.3 L525.6 553.9 L525.1 553.6 L524.6 553.2 L524.1 552.9 L523.6 552.6 L523.1 552.2 L522.6 551.9 L522.1 551.5 L521.6 551.2 L521.1 550.9 L520.6 550.5 L520.1 550.2 L519.6 549.9 L519.1 549.5 L518.6 549.2 L518.1 548.9 L517.6 548.6 L517.1 548.2 L516.6 547.9 L516.1 547.6 L515.6 547.3 L515.1 546.9 L514.6 546.6 L514.1 546.3 L513.6 546.0 L513.1 545.7 L512.6 545.4 L512.1 545.1 L511.6 544.8 L511.1 544.4 L510.6 544.1 L510.1 543.8 L509.6 543.5 L509.1 543.2 L508.6 542.9 L508.1 542.6 L507.6 542.4 L507.1 542.1 L506.6 541.8 L506.1 541.5 L505.6 541.2 L505.1 540.9 L504.6 540.6 L504.1 540.4 L503.6 540.1 L503.1 539.8 L502.6 539.5 L502.1 539.3 L501.6 539.0 L501.1 538.7 L500.6 538.5 L500.1 538.2 L499.6 537.9 L499.1 537.6 L498.6 537.4 L498.1 537.1 L497.6 536.8 L497.1 536.6 L496.6 536.3 L496.1 536.0 L495.6 535.8 L495.1 535.5 L494.6 535.2 L494.1 535.0 L493.6 534.7 L493.1 534.4 L492.6 534.1 L492.1 533.9 L491.6 533.6 L491.1 533.3 L490.6 533.0 L490.1 532.8 L489.6 532.5 L489.1 532.2 L488.6 531.9 L488.1 531.6 L487.6 531.3 L487.1 531.0 L486.6 530.7 L486.1 530.4 L485.7 530.1 L485.2 529.8 L484.7 529.5 L484.2 529.2 L483.7 528.9 L483.2 528.6 L482.7 528.3 L482.2 528.0 L481.7 527.7 L481.2 527.4 L480.7 527.0 L480.2 526.7 L479.7 526.4 L479.2 526.1 L478.7 525.8 L478.2 525.4 L477.7 525.1 L477.2 524.8 L476.7 524.5 L476.2 524.2 L475.7 523.8 L475.2 523.5 L474.7 523.2 L474.2 522.9 L473.7 522.5 L473.2 522.2 L472.7 521.9 L472.2 521.6 L471.7 521.2 L471.2 520.9 L470.7 520.6 L470.2 520.2 L469.7 519.9 L469.2 519.6 L468.7 519.3 L468.2 519.0 L467.7 518.6 L467.2 518.3 L466.7 518.0 L466.2 517.7 L465.7 517.3 L465.2 517.0 L464.7 516.7 L464.2 516.4 L463.7 516.1 L463.2 515.8 L462.7 515.4 L462.2 515.1 L461.7 514.8 L461.2 514.5 L460.7 514.2 L460.2 513.9 L459.7 513.6 L459.2 513.3 L458.7 513.0 L458.2 512.7 L457.7 512.4 L457.2 512.1 L456.7 511.8 L456.2 511.5 L455.7 511.3 L455.2 511.0 L454.7 510.7 L454.2 510.4 L453.7 510.1 L453.2 509.9 L452.6 509.6 L452.1 509.3 L451.6 509.1 L451.1 508.8 L450.6 508.6 L450.1 508.3 L449.6 508.0 L449.1 507.8 L448.6 507.5 L448.1 507.3 L447.6 507.1 L447.1 506.8 L446.6 506.6 L446.1 506.3 L445.6 506.1 L445.1 505.9 L444.6 505.6 L444.1 505.4 L443.6 505.2 L443.1 504.9 L442.6 504.7 L442.1 504.5 L441.6 504.2 L441.1 504.0 L440.6 503.8 L440.1 503.6 L439.6 503.4 L439.1 503.1 L438.6 502.9 L438.1 502.7 L437.6 502.5 L437.1 502.3 L436.6 502.0 L436.1 501.8 L435.6 501.6 L435.1 501.4 L434.6 501.2 L434.1 500.9 L433.6 500.7 L433.1 500.5 L432.6 500.3 L432.1 500.1 L431.6 499.9 L431.1 499.6 L430.6 499.4 L430.1 499.2 L429.6 499.0 L429.1 498.7 L428.6 498.5 L428.1 498.3 L427.6 498.1 L427.1 497.9 L426.6 497.6 L426.1 497.4 L425.6 497.2 L425.1 496.9 L424.6 496.7 L424.1 496.5 L423.6 496.2 L423.1 496.0 L422.6 495.8 L422.1 495.5 L421.7 495.3 L421.2 495.0 L420.7 494.8 L420.2 494.6 L419.7 494.3 L419.2 494.1 L418.7 493.8 L418.2 493.5 L417.7 493.3 L417.2 493.0 L416.7 492.8 L416.2 492.5 L415.7 492.2 L415.2 492.0 L414.7 491.7 L414.2 491.4 L413.7 491.1 L413.2 490.8 L412.7 490.5 L412.2 490.3 L411.7 490.0 L411.2 489.7 L410.7 489.4 L410.3 489.1 L409.8 488.8 L409.3 488.4 L408.8 488.1 L408.3 487.8 L407.8 487.5 L407.3 487.2 L406.8 486.8 L406.3 486.5 L405.8 486.2 L405.3 485.8 L404.8 485.5 L404.3 485.1 L403.8 484.8 L403.3 484.4 L402.8 484.0 L402.3 483.7 L401.9 483.3 L401.4 482.9 L400.9 482.5 L400.4 482.1 L399.9 481.8 L399.4 481.4 L398.9 481.0 L398.4 480.6 L397.9 480.2 L397.4 479.8 L396.9 479.4 L396.4 478.9 L395.9 478.5 L395.4 478.1 L394.9 477.7 L394.4 477.3 L393.9 476.8 L393.4 476.4 L392.9 476.0 L392.4 475.5 L391.9 475.1 L391.4 474.6 L390.9 474.2 L390.4 473.7 L389.9 473.3 L389.4 472.8 L389.0 472.4 L388.5 471.9 L388.0 471.4 L387.5 471.0 L387.0 470.5 L386.5 470.0 L386.0 469.6 L385.5 469.1 L385.0 468.6 L384.5 468.1 L384.0 467.7 L383.5 467.2 L383.0 466.7 L382.5 466.2 L382.0 465.7 L381.5 465.2 L381.0 464.7 L380.5 464.2 L380.0 463.7 L379.5 463.2 L379.0 462.8 L378.5 462.3 L378.0 461.8 L377.5 461.3 L377.0 460.7 L376.5 460.2 L376.0 459.7 L375.5 459.2 L375.0 458.7 L374.5 458.2 L374.0 457.7 L373.5 457.2 L373.0 456.7 L372.5 456.2 L372.0 455.7 L371.5 455.2 L371.0 454.7 L370.5 454.1 L370.0 453.6 L369.5 453.1 L369.0 452.6 L368.5 452.1 L368.0 451.6 L367.5 451.1 L367.0 450.5 L366.5 450.0 L366.0 449.5 L365.5 449.0 L365.0 448.5 L364.5 448.0 L364.0 447.5 L363.5 447.0 L363.0 446.4 L362.5 445.9 L362.0 445.4 L361.5 444.9 L361.0 444.4 L360.5 443.9 L360.0 443.4 L359.5 442.9 L359.0 442.4 L358.5 441.9 L358.0 441.4 L357.5 440.9 L357.0 440.4 L356.5 439.9 L356.0 439.4 L355.5 438.9 L355.0 438.4 L354.5 437.9 L354.0 437.4 L353.5 436.9 L353.0 436.4 L352.5 435.9 L352.0 435.4 L351.5 434.9 L351.0 434.4 L350.5 433.9 L350.0 433.5 L349.5 433.0 L349.0 432.5 L348.5 432.0 L348.0 431.6 L347.5 431.1 L347.0 430.6 L346.5 430.2 L346.0 429.7 L345.5 429.2 L345.0 428.8 L344.5 428.3 L344.0 427.9 L343.5 427.4 L343.0 427.0 L342.5 426.5 L342.0 426.1 L341.5 425.6 L341.0 425.2 L340.5 424.8 L340.0 424.4 L339.5 423.9 L339.0 423.5 L338.5 423.1 L338.0 422.7 L337.5 422.3 L337.0 421.9 L336.5 421.5 L336.0 421.1 L335.5 420.7 L335.0 420.3 L334.4 419.9 L333.9 419.5 L333.4 419.1 L332.9 418.8 L332.4 418.4 L331.9 418.0 L331.4 417.7 L330.9 417.3 L330.4 417.0 L329.9 416.6 L329.4 416.3 L328.9 416.0 L328.4 415.7 L327.9 415.3 L327.4 415.0 L326.8 414.7 L326.3 414.4 L325.8 414.1 L325.3 413.8 L324.8 413.6 L324.3 413.3 L323.8 413.0 L323.3 412.7 L322.8 412.5 L322.2 412.2 L321.7 412.0 L321.2 411.8 L320.7 411.5 L320.2 411.3 L319.7 411.1 L319.2 410.9 L318.7 410.7 L318.1 410.5 L317.6 410.3 L317.1 410.1 L316.6 410.0 L316.1 409.8 L315.5 409.7 L315.0 409.5 L314.5 409.4 L314.0 409.3 L313.5 409.1 L313.0 409.0 L312.4 408.9 L311.9 408.8 L311.4 408.8 L310.9 408.7 L310.3 408.6 L309.8 408.6 L309.3 408.5 L308.8 408.4 L308.2 408.4 L307.7 408.4 L307.2 408.3 L306.7 408.3 L306.1 408.3 L305.6 408.3 L305.1 408.4 L304.6 408.4 L304.0 408.4 L303.5 408.5 L303.0 408.5 L302.4 408.6 L301.9 408.7 L301.3 408.8 L300.8 408.9 L300.3 409.0 L299.7 409.2 L299.2 409.3 L298.7 409.5 L298.1 409.6 L297.6 409.8 L297.1 410.0 L296.5 410.2 L296.0 410.4 L295.4 410.6 L294.9 410.8 L294.4 411.1 L293.8 411.3 L293.3 411.6 L292.8 411.9 L292.2 412.2 L291.7 412.4 L291.2 412.8 L290.6 413.1 L290.1 413.4 L289.6 413.7 L289.1 414.0 L288.5 414.4 L288.0 414.7 L287.5 415.1 L286.9 415.5 L286.4 415.9 L285.9 416.2 L285.4 416.6 L284.8 417.0 L284.3 417.5 L283.8 417.9 L283.2 418.3 L282.7 418.7 L282.2 419.2 L281.7 419.6 L281.1 420.1 L280.6 420.5 L280.1 421.0 L279.6 421.5 L279.0 421.9 L278.5 422.4 L278.0 422.9 L277.5 423.4 L277.0 423.9 L276.5 424.4 L275.9 425.0 L275.4 425.5 L274.9 426.0 L274.4 426.5 L273.9 427.1 L273.4 427.6 L272.8 428.2 L272.3 428.7 L271.8 429.3 L271.3 429.8 L270.8 430.4 L270.3 431.0 L269.7 431.5 L269.2 432.1 L268.7 432.7 L268.2 433.3 L267.7 433.9 L267.2 434.4 L266.7 435.0 L266.1 435.6 L265.6 436.2 L265.1 436.8 L264.6 437.4 L264.1 438.0 L263.6 438.6 L263.1 439.3 L262.6 439.9 L262.0 440.5 L261.5 441.1 L261.0 441.7 L260.5 442.3 L260.0 442.9 L259.5 443.6 L259.0 444.2 L258.5 444.8 L258.0 445.4 L257.4 446.0 L256.9 446.7 L256.4 447.3 L255.9 447.9 L255.4 448.5 L254.9 449.2 L254.4 449.8 L253.9 450.4 L253.4 451.0 L252.9 451.7 L252.4 452.3 L251.8 452.9 L251.3 453.5 L250.8 454.2 L250.3 454.8 L249.8 455.4 L249.3 456.0 L248.8 456.6 L248.3 457.2 L247.8 457.8 L247.3 458.5 L246.8 459.1 L246.3 459.7 L245.8 460.3 L245.3 460.9 L244.8 461.5 L244.3 462.1 L243.8 462.7 L243.3 463.3 L242.8 463.9 L242.3 464.5 L241.8 465.1 L241.3 465.6 L240.8 466.2 L240.3 466.8 L239.8 467.4 L239.3 467.9 L238.8 468.5 L238.4 469.0 L237.9 469.6 L237.4 470.1 L236.9 470.7 L236.4 471.2 L235.9 471.8 L235.4 472.3 L234.9 472.8 L234.4 473.4 L233.9 473.9 L233.4 474.4 L232.9 474.9 L232.4 475.4 L231.9 475.9 L231.4 476.4 L231.0 476.9 L230.5 477.4 L230.0 477.9 L229.5 478.4 L229.0 478.9 L228.5 479.4 L228.0 479.8 L227.5 480.3 L227.0 480.8 L226.5 481.2 L226.0 481.7 L225.5 482.1 L225.1 482.6 L224.6 483.0 L224.1 483.5 L223.6 483.9 L223.1 484.3 L222.6 484.8 L222.1 485.2 L221.6 485.6 L221.1 486.0 L220.6 486.4 L220.2 486.8 L219.7 487.2 L219.2 487.6 L218.7 488.0 L218.2 488.4 L217.7 488.8 L217.2 489.2 L216.7 489.6 L216.3 489.9 L215.8 490.3 L215.3 490.7 L214.8 491.0 L214.3 491.4 L213.8 491.7 L213.3 492.1 L212.8 492.4 L212.4 492.7 L211.9 493.1 L211.4 493.4 L210.9 493.7 L210.4 494.0 L209.9 494.3 L209.5 494.7 L209.0 495.0 L208.5 495.3 L208.0 495.6 L207.5 495.9 L207.0 496.1 L206.6 496.4 L206.1 496.7 L205.6 497.0 L205.1 497.2 L204.6 497.5 L204.2 497.8 L203.7 498.0 L203.2 498.3 L202.7 498.5 L202.2 498.8 L201.8 499.0 L201.3 499.2 L200.8 499.5 L200.3 499.7 L199.8 499.9 L199.4 500.1 L198.9 500.3 L198.4 500.5 L197.9 500.7 L197.5 500.9 L197.0 501.1 L196.5 501.3 L196.0 501.5 L195.5 501.7 L195.1 501.8 L194.6 502.0 L194.1 502.2 L193.7 502.3 L193.2 502.5 L192.7 502.6 L192.2 502.8 L191.8 502.9 L191.3 503.1 L190.8 503.2 L190.3 503.3 L189.9 503.5 L189.4 503.6 L188.9 503.7 L188.4 503.8Z" fill="#a6a6a6" stroke="none" clip-path="url(#bc193)"/>
<path d="M192.2 489.6 L193.2 489.1 L194.2 488.5 L195.2 487.9 L196.2 487.3 L197.2 486.7 L198.2 486.1 L199.2 485.4 L200.2 484.7 L201.2 484.0 L202.2 483.3 L203.2 482.6 L204.2 481.8 L205.2 481.0 L206.2 480.3 L207.2 479.5 L208.2 478.6 L209.2 477.8 L210.2 477.0 L211.2 476.1 L212.2 475.2 L213.2 474.4 L214.2 473.5 L215.2 472.6 L216.2 471.6 L217.2 470.7 L218.2 469.8 L219.2 468.8 L220.2 467.9 L221.2 466.9 L222.2 465.9 L223.2 465.0 L224.2 464.0 L225.2 463.0 L226.2 462.0 L227.2 461.0 L228.2 460.0 L229.2 459.0 L230.2 457.9 L231.2 456.9 L232.2 455.9 L233.2 454.9 L234.2 453.8 L235.2 452.8 L236.2 451.8 L237.2 450.8 L238.2 449.7 L239.2 448.7 L240.2 447.7 L241.2 446.6 L242.2 445.6 L243.2 444.6 L244.2 443.6 L245.2 442.5 L246.2 441.5 L247.2 440.5 L248.2 439.5 L249.2 438.5 L250.2 437.5 L251.2 436.5 L252.2 435.5 L253.2 434.6 L254.2 433.6 L255.2 432.6 L256.2 431.7 L257.2 430.7 L258.2 429.8 L259.2 428.9 L260.2 428.0 L261.2 427.1 L262.2 426.2 L263.2 425.3 L264.2 424.5 L265.2 423.6 L266.2 422.8 L267.2 422.0 L268.2 421.2 L269.2 420.4 L270.2 419.6 L271.2 418.8 L272.2 418.1 L273.2 417.4 L274.2 416.7 L275.2 416.0 L276.2 415.3 L277.2 414.7 L278.2 414.0 L279.2 413.4 L280.2 412.9 L281.2 412.3 L282.2 411.8 L283.2 411.3 L284.2 410.8 L285.2 410.4 L286.2 410.0 L287.2 409.6 L288.2 409.2 L289.2 408.9 L290.2 408.6 L291.2 408.4 L292.2 408.1 L293.2 408.0 L294.2 407.8 L295.2 407.7 L296.2 407.6 L297.2 407.6 L298.2 407.6 L299.2 407.6 L300.2 407.7 L301.2 407.9 L302.2 408.0 L303.2 408.2 L304.2 408.5 L305.2 408.8 L306.2 409.1 L307.2 409.5 L308.2 409.9 L309.2 410.4 L310.2 410.9 L311.2 411.4 L312.2 412.0 L313.2 412.6 L314.2 413.2 L315.2 413.9 L316.2 414.6 L317.2 415.3 L318.2 416.1 L319.2 416.9 L320.2 417.8 L321.2 418.6 L322.2 419.5 L323.2 420.4 L324.2 421.4 L325.2 422.3 L326.2 423.3 L327.2 424.3 L328.2 425.4 L329.2 426.4 L330.2 427.5 L331.2 428.5 L332.2 429.6 L333.2 430.7 L334.2 431.8 L335.2 433.0 L336.2 434.1 L337.2 435.2 L338.2 436.4 L339.2 437.5 L340.2 438.7 L341.2 439.8 L342.2 441.0 L343.2 442.2 L344.2 443.3 L345.2 444.5 L346.2 445.7 L347.2 446.9 L348.2 448.1 L349.2 449.3 L350.2 450.5 L351.2 451.7 L352.2 452.8 L353.2 454.0 L354.2 455.2 L355.2 456.4 L356.2 457.6 L357.2 458.8 L358.2 460.0 L359.2 461.2 L360.2 462.4 L361.2 463.6 L362.2 464.8 L363.2 465.9 L364.2 467.1 L365.2 468.3 L366.2 469.4 L367.2 470.6 L368.2 471.8 L369.2 472.9 L370.2 474.1 L371.2 475.2 L372.2 476.3 L373.2 477.5 L374.2 478.6 L375.2 479.7 L376.2 480.8 L377.2 481.9 L378.2 483.0 L379.2 484.1 L380.2 485.1 L381.2 486.2 L382.2 487.2 L383.2 488.3 L384.2 489.3 L385.2 490.3 L386.2 491.3 L387.2 492.3 L388.2 493.3 L389.2 494.3 L390.2 495.3 L391.2 496.2 L392.2 497.1 L393.2 498.0 L394.2 498.9 L395.2 499.8 L396.2 500.7 L397.2 501.5 L398.2 502.3 L399.2 503.2 L400.2 504.0 L401.2 504.8 L402.2 505.5 L403.2 506.3 L404.2 507.0 L405.2 507.8 L406.2 508.5 L407.2 509.2 L408.2 509.9 L409.2 510.6 L410.2 511.3 L411.2 511.9 L412.2 512.6 L413.2 513.2 L414.2 513.9 L415.2 514.5 L416.2 515.1 L417.2 515.7 L418.2 516.3 L419.2 516.9 L420.2 517.5 L421.2 518.1 L422.2 518.7 L423.2 519.2 L424.2 519.8 L425.2 520.4 L426.2 520.9 L427.2 521.5 L428.2 522.0 L429.2 522.5 L430.2 523.1 L431.2 523.6 L432.2 524.1 L433.2 524.6 L434.2 525.1 L435.2 525.6 L436.2 526.2 L437.2 526.7 L438.2 527.2 L439.2 527.7 L440.2 528.2 L441.2 528.7 L442.2 529.1 L443.2 529.6 L444.2 530.1 L445.2 530.6 L446.2 531.1 L447.2 531.6 L448.2 532.0 L449.2 532.5 L450.2 533.0 L451.2 533.4 L452.2 533.9 L453.2 534.4 L454.2 534.8 L455.2 535.3 L456.2 535.7 L457.2 536.2 L458.2 536.7 L459.2 537.1 L460.2 537.6 L461.2 538.0 L462.2 538.4 L463.2 538.9 L464.2 539.3 L465.2 539.8 L466.2 540.2 L467.2 540.6 L468.2 541.1 L469.2 541.5 L470.2 541.9 L471.2 542.4 L472.2 542.8 L473.2 543.2 L474.2 543.7 L475.2 544.1 L476.2 544.5 L477.2 544.9 L478.2 545.4 L479.2 545.8 L480.2 546.2 L481.2 546.6 L482.2 547.1 L483.2 547.5 L484.2 547.9 L485.2 548.3 L486.2 548.7 L487.2 549.2 L488.2 549.6 L489.2 550.0 L490.2 550.4 L491.2 550.8 L492.2 551.2 L493.2 551.7 L494.2 552.1 L495.2 552.5 L496.2 552.9 L497.2 553.3 L498.2 553.7 L499.2 554.2 L500.2 554.6 L501.2 555.0 L502.2 555.4 L503.2 555.8 L504.2 556.3 L505.2 556.7 L506.2 557.1 L507.2 557.5 L508.2 557.9 L509.2 558.4 L510.2 558.8 L511.2 559.2 L512.2 559.6 L513.2 560.1 L514.2 560.5 L515.2 560.9 L516.2 561.3 L517.2 561.7 L518.2 562.2 L519.2 562.6 L520.2 563.0 L521.2 563.4 L522.2 563.8 L523.2 564.3 L524.2 564.7 L525.2 565.1 L526.2 565.5 L527.2 565.9 L528.2 566.3 L529.2 566.8 L530.2 567.2 L531.2 567.6 L532.2 568.0 L533.2 568.4 L534.2 568.8 L535.2 569.3 L536.2 569.7 L537.2 570.1 L538.2 570.5 L539.2 570.9 L540.2 571.3 L541.2 571.7 L542.2 572.1 L543.2 572.5 L544.2 572.9 L545.2 573.3 L546.2 573.7 L547.2 574.1 L548.2 574.5 L549.2 574.9 L550.2 575.3 L551.2 575.7 L552.2 576.1 L553.2 576.5 L554.2 576.9 L555.2 577.3 L556.2 577.7 L557.2 578.1 L558.2 578.5 L559.2 578.9 L560.2 579.2 L561.2 579.6 L562.2 580.0 L563.2 580.4 L564.2 580.8 L565.2 581.1 L566.2 581.5 L567.2 581.9 L568.2 582.3 L569.2 582.6 L570.2 583.0 L571.2 583.4 L572.2 583.7 L573.2 584.1 L574.2 584.4 L575.2 584.8 L576.2 585.2 L577.2 585.5 L578.2 585.9 L579.2 586.2 L580.2 586.6 L581.2 586.9 L582.2 587.2 L583.2 587.6 L584.2 587.9 L585.2 588.3 L586.2 588.6 L587.2 588.9 L588.2 589.2 L589.2 589.6 L590.2 589.9 L591.2 590.2 L591.4 590.3" fill="none" stroke="#000" stroke-width="1.85" stroke-dasharray="8 7.5" stroke-linejoin="round"/>
<path d="M192.2 465.5 L193.2 464.7 L194.2 463.8 L195.2 462.9 L196.2 462.0 L197.2 461.1 L198.2 460.2 L199.2 459.3 L200.2 458.3 L201.2 457.4 L202.2 456.4 L203.2 455.4 L204.2 454.4 L205.2 453.4 L206.2 452.4 L207.2 451.4 L208.2 450.4 L209.2 449.4 L210.2 448.3 L211.2 447.3 L212.2 446.2 L213.2 445.1 L214.2 444.1 L215.2 443.0 L216.2 441.9 L217.2 440.8 L218.2 439.7 L219.2 438.6 L220.2 437.5 L221.2 436.4 L222.2 435.3 L223.2 434.2 L224.2 433.0 L225.2 431.9 L226.2 430.8 L227.2 429.6 L228.2 428.5 L229.2 427.4 L230.2 426.2 L231.2 425.1 L232.2 423.9 L233.2 422.8 L234.2 421.6 L235.2 420.5 L236.2 419.3 L237.2 418.2 L238.2 417.0 L239.2 415.9 L240.2 414.8 L241.2 413.6 L242.2 412.5 L243.2 411.4 L244.2 410.3 L245.2 409.1 L246.2 408.1 L247.2 407.0 L248.2 405.9 L249.2 404.8 L250.2 403.8 L251.2 402.8 L252.2 401.7 L253.2 400.7 L254.2 399.8 L255.2 398.8 L256.2 397.9 L257.2 396.9 L258.2 396.0 L259.2 395.2 L260.2 394.3 L261.2 393.5 L262.2 392.7 L263.2 391.9 L264.2 391.2 L265.2 390.5 L266.2 389.8 L267.2 389.1 L268.2 388.5 L269.2 387.9 L270.2 387.4 L271.2 386.9 L272.2 386.4 L273.2 385.9 L274.2 385.5 L275.2 385.2 L276.2 384.9 L277.2 384.6 L278.2 384.3 L279.2 384.2 L280.2 384.0 L281.2 383.9 L282.2 383.9 L283.2 383.9 L284.2 383.9 L285.2 384.0 L286.2 384.2 L287.2 384.4 L288.2 384.7 L289.2 385.0 L290.2 385.4 L291.2 385.8 L292.2 386.3 L293.2 386.8 L294.2 387.4 L295.2 388.0 L296.2 388.7 L297.2 389.4 L298.2 390.2 L299.2 391.0 L300.2 391.8 L301.2 392.7 L302.2 393.7 L303.2 394.6 L304.2 395.6 L305.2 396.7 L306.2 397.7 L307.2 398.9 L308.2 400.0 L309.2 401.2 L310.2 402.4 L311.2 403.6 L312.2 404.8 L313.2 406.1 L314.2 407.4 L315.2 408.7 L316.2 410.1 L317.2 411.4 L318.2 412.8 L319.2 414.2 L320.2 415.6 L321.2 417.0 L322.2 418.5 L323.2 419.9 L324.2 421.3 L325.2 422.8 L326.2 424.3 L327.2 425.7 L328.2 427.2 L329.2 428.7 L330.2 430.1 L331.2 431.6 L332.2 433.1 L333.2 434.5 L334.2 436.0 L335.2 437.4 L336.2 438.9 L337.2 440.3 L338.2 441.7 L339.2 443.1 L340.2 444.5 L341.2 445.9 L342.2 447.3 L343.2 448.6 L344.2 449.9 L345.2 451.2 L346.2 452.5 L347.2 453.7 L348.2 455.0 L349.2 456.2 L350.2 457.4 L351.2 458.5 L352.2 459.6 L353.2 460.7 L354.2 461.8 L355.2 462.8 L356.2 463.8 L357.2 464.7 L358.2 465.7 L359.2 466.6 L360.2 467.5 L361.2 468.3 L362.2 469.2 L363.2 470.0 L364.2 470.8 L365.2 471.6 L366.2 472.3 L367.2 473.1 L368.2 473.8 L369.2 474.6 L370.2 475.3 L371.2 476.0 L372.2 476.7 L373.2 477.4 L374.2 478.1 L375.2 478.7 L376.2 479.4 L377.2 480.1 L378.2 480.8 L379.2 481.5 L380.2 482.1 L381.2 482.8 L382.2 483.5 L383.2 484.2 L384.2 484.9 L385.2 485.5 L386.2 486.2 L387.2 486.9 L388.2 487.6 L389.2 488.3 L390.2 489.0 L391.2 489.7 L392.2 490.4 L393.2 491.1 L394.2 491.8 L395.2 492.5 L396.2 493.2 L397.2 493.9 L398.2 494.6 L399.2 495.3 L400.2 496.0 L401.2 496.8 L402.2 497.5 L403.2 498.2 L404.2 498.9 L405.2 499.6 L406.2 500.3 L407.2 501.0 L408.2 501.6 L409.2 502.3 L410.2 503.0 L411.2 503.6 L412.2 504.2 L413.2 504.9 L414.2 505.5 L415.2 506.1 L416.2 506.6 L417.2 507.2 L418.2 507.7 L419.2 508.3 L420.2 508.8 L421.2 509.3 L422.2 509.8 L423.2 510.3 L424.2 510.8 L425.2 511.2 L426.2 511.7 L427.2 512.2 L428.2 512.6 L429.2 513.1 L430.2 513.5 L431.2 514.0 L432.2 514.4 L433.2 514.9 L434.2 515.4 L435.2 515.8 L436.2 516.3 L437.2 516.8 L438.2 517.3 L439.2 517.8 L440.2 518.3 L441.2 518.8 L442.2 519.3 L443.2 519.8 L444.2 520.3 L445.2 520.9 L446.2 521.4 L447.2 521.9 L448.2 522.5 L449.2 523.0 L450.2 523.6 L451.2 524.1 L452.2 524.7 L453.2 525.3 L454.2 525.8 L455.2 526.4 L456.2 527.0 L457.2 527.6 L458.2 528.2 L459.2 528.7 L460.2 529.3 L461.2 529.9 L462.2 530.5 L463.2 531.1 L464.2 531.8 L465.2 532.4 L466.2 533.0 L467.2 533.6 L468.2 534.2 L469.2 534.8 L470.2 535.5 L471.2 536.1 L472.2 536.7 L473.2 537.3 L474.2 538.0 L475.2 538.6 L476.2 539.2 L477.2 539.8 L478.2 540.4 L479.2 541.0 L480.2 541.6 L481.2 542.2 L482.2 542.8 L483.2 543.4 L484.2 544.0 L485.2 544.5 L486.2 545.1 L487.2 545.7 L488.2 546.2 L489.2 546.8 L490.2 547.4 L491.2 547.9 L492.2 548.5 L493.2 549.0 L494.2 549.6 L495.2 550.1 L496.2 550.7 L497.2 551.2 L498.2 551.8 L499.2 552.4 L500.2 552.9 L501.2 553.5 L502.2 554.0 L503.2 554.6 L504.2 555.1 L505.2 555.7 L506.2 556.3 L507.2 556.8 L508.2 557.4 L509.2 558.0 L510.2 558.6 L511.2 559.1 L512.2 559.7 L513.2 560.3 L514.2 560.9 L515.2 561.5 L516.2 562.1 L517.2 562.7 L518.2 563.3 L519.2 563.9 L520.2 564.5 L521.2 565.1 L522.2 565.7 L523.2 566.3 L524.2 566.9 L525.2 567.5 L526.2 568.1 L527.2 568.7 L528.2 569.3 L529.2 569.9 L530.2 570.5 L531.2 571.1 L532.2 571.8 L533.2 572.4 L534.2 573.0 L535.2 573.6 L536.2 574.2 L537.2 574.8 L538.2 575.4 L539.2 576.0 L540.2 576.7 L541.2 577.3 L542.2 577.9 L543.2 578.5 L544.2 579.1 L545.2 579.7 L546.2 580.3 L547.2 580.9 L548.2 581.5 L549.2 582.1 L550.2 582.7 L551.2 583.3 L552.2 583.9 L553.2 584.5 L554.2 585.1 L555.2 585.7 L556.2 586.3 L557.2 586.8 L558.2 587.4 L559.2 588.0 L560.2 588.6 L561.2 589.1 L562.2 589.7 L563.2 590.3 L564.2 590.8 L565.2 591.4 L566.2 591.9 L567.2 592.5 L568.2 593.0 L569.2 593.6 L570.2 594.1 L571.2 594.6 L572.2 595.2 L573.2 595.7 L574.2 596.2 L575.2 596.7 L576.2 597.2 L577.2 597.7 L578.2 598.2 L579.2 598.7 L580.2 599.2 L581.2 599.7 L582.2 600.2 L583.2 600.7 L584.2 601.1 L585.2 601.6 L586.2 602.0 L587.2 602.5 L588.2 602.9 L589.2 603.4 L590.2 603.8 L591.2 604.2 L591.4 604.3" fill="none" stroke="#000" stroke-width="1.85" stroke-dasharray="8 3.5 1.6 3.9" stroke-linejoin="round"/>
<path d="M193.2 505.9 L194.2 505.6 L195.2 505.3 L196.2 504.9 L197.2 504.6 L198.2 504.2 L199.2 503.8 L200.2 503.3 L201.2 502.9 L202.2 502.4 L203.2 501.9 L204.2 501.4 L205.2 500.9 L206.2 500.4 L207.2 499.8 L208.2 499.2 L209.2 498.6 L210.2 498.0 L211.2 497.4 L212.2 496.7 L213.2 496.1 L214.2 495.4 L215.2 494.7 L216.2 494.0 L217.2 493.2 L218.2 492.5 L219.2 491.7 L220.2 490.9 L221.2 490.1 L222.2 489.3 L223.2 488.5 L224.2 487.6 L225.2 486.7 L226.2 485.8 L227.2 484.9 L228.2 484.0 L229.2 483.1 L230.2 482.1 L231.2 481.1 L232.2 480.2 L233.2 479.2 L234.2 478.1 L235.2 477.1 L236.2 476.0 L237.2 475.0 L238.2 473.9 L239.2 472.8 L240.2 471.7 L241.2 470.6 L242.2 469.4 L243.2 468.2 L244.2 467.1 L245.2 465.9 L246.2 464.7 L247.2 463.5 L248.2 462.3 L249.2 461.0 L250.2 459.8 L251.2 458.5 L252.2 457.3 L253.2 456.0 L254.2 454.8 L255.2 453.5 L256.2 452.3 L257.2 451.0 L258.2 449.7 L259.2 448.5 L260.2 447.2 L261.2 446.0 L262.2 444.7 L263.2 443.5 L264.2 442.2 L265.2 441.0 L266.2 439.8 L267.2 438.6 L268.2 437.3 L269.2 436.2 L270.2 435.0 L271.2 433.8 L272.2 432.7 L273.2 431.5 L274.2 430.4 L275.2 429.3 L276.2 428.2 L277.2 427.2 L278.2 426.1 L279.2 425.1 L280.2 424.1 L281.2 423.2 L282.2 422.2 L283.2 421.3 L284.2 420.4 L285.2 419.6 L286.2 418.7 L287.2 417.9 L288.2 417.2 L289.2 416.4 L290.2 415.7 L291.2 415.0 L292.2 414.4 L293.2 413.8 L294.2 413.3 L295.2 412.7 L296.2 412.3 L297.2 411.8 L298.2 411.4 L299.2 411.1 L300.2 410.7 L301.2 410.5 L302.2 410.3 L303.2 410.1 L304.2 409.9 L305.2 409.8 L306.2 409.8 L307.2 409.7 L308.2 409.8 L309.2 409.8 L310.2 409.9 L311.2 410.0 L312.2 410.2 L313.2 410.4 L314.2 410.6 L315.2 410.9 L316.2 411.2 L317.2 411.5 L318.2 411.9 L319.2 412.3 L320.2 412.7 L321.2 413.2 L322.2 413.6 L323.2 414.1 L324.2 414.7 L325.2 415.2 L326.2 415.8 L327.2 416.4 L328.2 417.0 L329.2 417.7 L330.2 418.4 L331.2 419.1 L332.2 419.8 L333.2 420.5 L334.2 421.3 L335.2 422.0 L336.2 422.8 L337.2 423.6 L338.2 424.5 L339.2 425.3 L340.2 426.1 L341.2 427.0 L342.2 427.9 L343.2 428.8 L344.2 429.7 L345.2 430.6 L346.2 431.5 L347.2 432.4 L348.2 433.4 L349.2 434.3 L350.2 435.3 L351.2 436.3 L352.2 437.2 L353.2 438.2 L354.2 439.2 L355.2 440.2 L356.2 441.2 L357.2 442.2 L358.2 443.2 L359.2 444.2 L360.2 445.2 L361.2 446.2 L362.2 447.3 L363.2 448.3 L364.2 449.3 L365.2 450.3 L366.2 451.4 L367.2 452.4 L368.2 453.4 L369.2 454.4 L370.2 455.5 L371.2 456.5 L372.2 457.5 L373.2 458.5 L374.2 459.5 L375.2 460.5 L376.2 461.6 L377.2 462.6 L378.2 463.6 L379.2 464.5 L380.2 465.5 L381.2 466.5 L382.2 467.5 L383.2 468.5 L384.2 469.4 L385.2 470.4 L386.2 471.3 L387.2 472.3 L388.2 473.2 L389.2 474.1 L390.2 475.0 L391.2 475.9 L392.2 476.8 L393.2 477.7 L394.2 478.5 L395.2 479.4 L396.2 480.2 L397.2 481.0 L398.2 481.8 L399.2 482.6 L400.2 483.4 L401.2 484.2 L402.2 484.9 L403.2 485.6 L404.2 486.3 L405.2 487.0 L406.2 487.7 L407.2 488.4 L408.2 489.0 L409.2 489.7 L410.2 490.3 L411.2 490.9 L412.2 491.5 L413.2 492.0 L414.2 492.6 L415.2 493.1 L416.2 493.7 L417.2 494.2 L418.2 494.7 L419.2 495.2 L420.2 495.7 L421.2 496.2 L422.2 496.7 L423.2 497.2 L424.2 497.6 L425.2 498.1 L426.2 498.6 L427.2 499.0 L428.2 499.5 L429.2 499.9 L430.2 500.3 L431.2 500.8 L432.2 501.2 L433.2 501.6 L434.2 502.1 L435.2 502.5 L436.2 502.9 L437.2 503.4 L438.2 503.8 L439.2 504.3 L440.2 504.7 L441.2 505.1 L442.2 505.6 L443.2 506.0 L444.2 506.5 L445.2 507.0 L446.2 507.4 L447.2 507.9 L448.2 508.4 L449.2 508.9 L450.2 509.4 L451.2 509.9 L452.2 510.5 L453.2 511.0 L454.2 511.5 L455.2 512.1 L456.2 512.7 L457.2 513.2 L458.2 513.8 L459.2 514.4 L460.2 515.0 L461.2 515.6 L462.2 516.2 L463.2 516.9 L464.2 517.5 L465.2 518.1 L466.2 518.8 L467.2 519.4 L468.2 520.0 L469.2 520.7 L470.2 521.3 L471.2 522.0 L472.2 522.6 L473.2 523.3 L474.2 523.9 L475.2 524.6 L476.2 525.2 L477.2 525.9 L478.2 526.5 L479.2 527.2 L480.2 527.8 L481.2 528.4 L482.2 529.1 L483.2 529.7 L484.2 530.3 L485.2 530.9 L486.2 531.5 L487.2 532.1 L488.2 532.7 L489.2 533.2 L490.2 533.8 L491.2 534.4 L492.2 534.9 L493.2 535.4 L494.2 536.0 L495.2 536.5 L496.2 537.1 L497.2 537.6 L498.2 538.1 L499.2 538.7 L500.2 539.2 L501.2 539.7 L502.2 540.3 L503.2 540.8 L504.2 541.4 L505.2 541.9 L506.2 542.5 L507.2 543.1 L508.2 543.7 L509.2 544.2 L510.2 544.8 L511.2 545.4 L512.2 546.1 L513.2 546.7 L514.2 547.3 L515.2 547.9 L516.2 548.6 L517.2 549.2 L518.2 549.9 L519.2 550.5 L520.2 551.2 L521.2 551.9 L522.2 552.5 L523.2 553.2 L524.2 553.9 L525.2 554.6 L526.2 555.3 L527.2 555.9 L528.2 556.6 L529.2 557.3 L530.2 558.0 L531.2 558.7 L532.2 559.4 L533.2 560.1 L534.2 560.8 L535.2 561.6 L536.2 562.3 L537.2 563.0 L538.2 563.7 L539.2 564.4 L540.2 565.1 L541.2 565.8 L542.2 566.5 L543.2 567.2 L544.2 567.9 L545.2 568.7 L546.2 569.4 L547.2 570.1 L548.2 570.8 L549.2 571.5 L550.2 572.2 L551.2 572.9 L552.2 573.6 L553.2 574.3 L554.2 574.9 L555.2 575.6 L556.2 576.3 L557.2 577.0 L558.2 577.7 L559.2 578.3 L560.2 579.0 L561.2 579.6 L562.2 580.3 L563.2 580.9 L564.2 581.6 L565.2 582.2 L566.2 582.9 L567.2 583.5 L568.2 584.1 L569.2 584.7 L570.2 585.3 L571.2 585.9 L572.2 586.5 L573.2 587.1 L574.2 587.6 L575.2 588.2 L576.2 588.7 L577.2 589.3 L578.2 589.8 L579.2 590.3 L580.2 590.9 L581.2 591.4 L582.2 591.9 L583.2 592.3 L584.2 592.8 L585.2 593.3 L586.2 593.7 L587.2 594.2 L588.2 594.6 L589.2 595.0 L590.2 595.4 L591.2 595.8 L591.4 595.9" fill="none" stroke="#000" stroke-width="1.85"  stroke-linejoin="round"/>
<circle cx="233.2" cy="453" r="4.4" fill="#ff0000" stroke="#c00000" stroke-width="0.7"/>
<path d="M233.2 450.2V455.8M231.39999999999998 450.2h3.6M231.39999999999998 455.8h3.6" stroke="#8a0000" stroke-width="0.8"/>
<circle cx="241.9" cy="449.1" r="4.4" fill="#ff0000" stroke="#c00000" stroke-width="0.7"/>
<path d="M241.9 446.3V451.90000000000003M240.1 446.3h3.6M240.1 451.90000000000003h3.6" stroke="#8a0000" stroke-width="0.8"/>
<circle cx="252.6" cy="440.2" r="4.4" fill="#ff0000" stroke="#c00000" stroke-width="0.7"/>
<path d="M252.6 437.4V443.0M250.79999999999998 437.4h3.6M250.79999999999998 443.0h3.6" stroke="#8a0000" stroke-width="0.8"/>
<circle cx="262.5" cy="430.9" r="4.4" fill="#ff0000" stroke="#c00000" stroke-width="0.7"/>
<path d="M262.5 428.09999999999997V433.7M260.7 428.09999999999997h3.6M260.7 433.7h3.6" stroke="#8a0000" stroke-width="0.8"/>
<circle cx="272.1" cy="425.7" r="4.4" fill="#ff0000" stroke="#c00000" stroke-width="0.7"/>
<path d="M272.1 422.9V428.5M270.3 422.9h3.6M270.3 428.5h3.6" stroke="#8a0000" stroke-width="0.8"/>
<path d="M272.1 420.9V431.2M269.1 420.9h6M269.1 431.2h6" stroke="#888" stroke-width="1.1" fill="none"/>
<circle cx="281.5" cy="431.6" r="4.4" fill="#ff0000" stroke="#c00000" stroke-width="0.7"/>
<path d="M281.5 428.8V434.40000000000003M279.7 428.8h3.6M279.7 434.40000000000003h3.6" stroke="#8a0000" stroke-width="0.8"/>
<path d="M281.5 425.7V437.4M278.5 425.7h6M278.5 437.4h6" stroke="#888" stroke-width="1.1" fill="none"/>
<path d="M319.9 413.4V438.9M316.9 413.4h6M316.9 438.9h6" stroke="#888" stroke-width="1.1" fill="none"/>
<path d="M332.9 405.2V430.2M329.9 405.2h6M329.9 430.2h6" stroke="#888" stroke-width="1.1" fill="none"/>
<path d="M345.2 434.8V453.7M342.2 434.8h6M342.2 453.7h6" stroke="#888" stroke-width="1.1" fill="none"/>
<path d="M358.8 437.9V452M355.8 437.9h6M355.8 452h6" stroke="#888" stroke-width="1.1" fill="none"/>
<path d="M374.2 449.6V463M371.2 449.6h6M371.2 463h6" stroke="#888" stroke-width="1.1" fill="none"/>
<path d="M387.5 470V482M384.5 470h6M384.5 482h6" stroke="#888" stroke-width="1.1" fill="none"/>
<path d="M400.8 482.5V493M397.8 482.5h6M397.8 493h6" stroke="#888" stroke-width="1.1" fill="none"/>
<path d="M414.8 494V503M411.8 494h6M411.8 503h6" stroke="#888" stroke-width="1.1" fill="none"/>
<path d="M429.5 509V516.5M426.5 509h6M426.5 516.5h6" stroke="#888" stroke-width="1.1" fill="none"/>
<path d="M445.8 516V522.5M442.8 516h6M442.8 522.5h6" stroke="#888" stroke-width="1.1" fill="none"/>
<path d="M465 526V533M462.0 526h6M462.0 533h6" stroke="#888" stroke-width="1.1" fill="none"/>
<path d="M488.9 544V551M485.9 544h6M485.9 551h6" stroke="#888" stroke-width="1.1" fill="none"/>
<path d="M532.4 568V573.5M529.4 568h6M529.4 573.5h6" stroke="#888" stroke-width="1.1" fill="none"/>
<rect x="315.9" y="421.9" width="8" height="8" fill="#0000ff" stroke="#0000b0" stroke-width="0.6"/>
<rect x="328.9" y="413.7" width="8" height="8" fill="#0000ff" stroke="#0000b0" stroke-width="0.6"/>
<rect x="341.2" y="440.3" width="8" height="8" fill="#0000ff" stroke="#0000b0" stroke-width="0.6"/>
<rect x="354.8" y="440.9" width="8" height="8" fill="#0000ff" stroke="#0000b0" stroke-width="0.6"/>
<rect x="370.2" y="452.6" width="8" height="8" fill="#0000ff" stroke="#0000b0" stroke-width="0.6"/>
<rect x="383.5" y="472.0" width="8" height="8" fill="#0000ff" stroke="#0000b0" stroke-width="0.6"/>
<rect x="396.8" y="483.5" width="8" height="8" fill="#0000ff" stroke="#0000b0" stroke-width="0.6"/>
<rect x="410.8" y="494.0" width="8" height="8" fill="#0000ff" stroke="#0000b0" stroke-width="0.6"/>
<rect x="425.5" y="509.0" width="8" height="8" fill="#0000ff" stroke="#0000b0" stroke-width="0.6"/>
<rect x="441.8" y="515.2" width="8" height="8" fill="#0000ff" stroke="#0000b0" stroke-width="0.6"/>
<rect x="461.0" y="525.7" width="8" height="8" fill="#0000ff" stroke="#0000b0" stroke-width="0.6"/>
<rect x="484.9" y="543.8" width="8" height="8" fill="#0000ff" stroke="#0000b0" stroke-width="0.6"/>
<rect x="528.4" y="566.6" width="8" height="8" fill="#0000ff" stroke="#0000b0" stroke-width="0.6"/>
</g>
<rect x="74.55" y="1.5" width="516.80" height="328.00" fill="none" stroke="#000" stroke-width="1.8"/>
<path d="M113.44 329.5v-6.5M113.44 1.5v6.5M136.19 329.5v-6.5M136.19 1.5v6.5M152.34 329.5v-6.5M152.34 1.5v6.5M164.86 329.5v-6.5M164.86 1.5v6.5M175.09 329.5v-6.5M175.09 1.5v6.5M183.74 329.5v-6.5M183.74 1.5v6.5M191.23 329.5v-6.5M191.23 1.5v6.5M197.84 329.5v-6.5M197.84 1.5v6.5M203.75 329.5v-13M203.75 1.5v13M242.64 329.5v-6.5M242.64 1.5v6.5M265.39 329.5v-6.5M265.39 1.5v6.5M281.54 329.5v-6.5M281.54 1.5v6.5M294.06 329.5v-6.5M294.06 1.5v6.5M304.29 329.5v-6.5M304.29 1.5v6.5M312.94 329.5v-6.5M312.94 1.5v6.5M320.43 329.5v-6.5M320.43 1.5v6.5M327.04 329.5v-6.5M327.04 1.5v6.5M332.95 329.5v-13M332.95 1.5v13M371.84 329.5v-6.5M371.84 1.5v6.5M394.59 329.5v-6.5M394.59 1.5v6.5M410.74 329.5v-6.5M410.74 1.5v6.5M423.26 329.5v-6.5M423.26 1.5v6.5M433.49 329.5v-6.5M433.49 1.5v6.5M442.14 329.5v-6.5M442.14 1.5v6.5M449.63 329.5v-6.5M449.63 1.5v6.5M456.24 329.5v-6.5M456.24 1.5v6.5M462.15 329.5v-13M462.15 1.5v13M501.04 329.5v-6.5M501.04 1.5v6.5M523.79 329.5v-6.5M523.79 1.5v6.5M539.94 329.5v-6.5M539.94 1.5v6.5M552.46 329.5v-6.5M552.46 1.5v6.5M562.69 329.5v-6.5M562.69 1.5v6.5M571.34 329.5v-6.5M571.34 1.5v6.5M578.83 329.5v-6.5M578.83 1.5v6.5M585.44 329.5v-6.5M585.44 1.5v6.5M74.55 321.30h5M591.35 321.30h-5M74.55 313.10h5M591.35 313.10h-5M74.55 304.90h5M591.35 304.90h-5M74.55 296.70h5M591.35 296.70h-5M74.55 288.50h5M591.35 288.50h-5M74.55 280.30h5M591.35 280.30h-5M74.55 272.10h5M591.35 272.10h-5M74.55 263.90h5M591.35 263.90h-5M74.55 255.70h5M591.35 255.70h-5M74.55 247.50h10M591.35 247.50h-10M74.55 239.30h5M591.35 239.30h-5M74.55 231.10h5M591.35 231.10h-5M74.55 222.90h5M591.35 222.90h-5M74.55 214.70h5M591.35 214.70h-5M74.55 206.50h5M591.35 206.50h-5M74.55 198.30h5M591.35 198.30h-5M74.55 190.10h5M591.35 190.10h-5M74.55 181.90h5M591.35 181.90h-5M74.55 173.70h5M591.35 173.70h-5M74.55 165.50h10M591.35 165.50h-10M74.55 157.30h5M591.35 157.30h-5M74.55 149.10h5M591.35 149.10h-5M74.55 140.90h5M591.35 140.90h-5M74.55 132.70h5M591.35 132.70h-5M74.55 124.50h5M591.35 124.50h-5M74.55 116.30h5M591.35 116.30h-5M74.55 108.10h5M591.35 108.10h-5M74.55 99.90h5M591.35 99.90h-5M74.55 91.70h5M591.35 91.70h-5M74.55 83.50h10M591.35 83.50h-10M74.55 75.30h5M591.35 75.30h-5M74.55 67.10h5M591.35 67.10h-5M74.55 58.90h5M591.35 58.90h-5M74.55 50.70h5M591.35 50.70h-5M74.55 42.50h5M591.35 42.50h-5M74.55 34.30h5M591.35 34.30h-5M74.55 26.10h5M591.35 26.10h-5M74.55 17.90h5M591.35 17.90h-5M74.55 9.70h5M591.35 9.70h-5" stroke="#000" stroke-width="1.6" fill="none"/>
<rect x="74.55" y="338.5" width="516.80" height="327.50" fill="none" stroke="#000" stroke-width="1.8"/>
<path d="M113.44 666.0v-6.5M113.44 338.5v6.5M136.19 666.0v-6.5M136.19 338.5v6.5M152.34 666.0v-6.5M152.34 338.5v6.5M164.86 666.0v-6.5M164.86 338.5v6.5M175.09 666.0v-6.5M175.09 338.5v6.5M183.74 666.0v-6.5M183.74 338.5v6.5M191.23 666.0v-6.5M191.23 338.5v6.5M197.84 666.0v-6.5M197.84 338.5v6.5M203.75 666.0v-13M203.75 338.5v13M242.64 666.0v-6.5M242.64 338.5v6.5M265.39 666.0v-6.5M265.39 338.5v6.5M281.54 666.0v-6.5M281.54 338.5v6.5M294.06 666.0v-6.5M294.06 338.5v6.5M304.29 666.0v-6.5M304.29 338.5v6.5M312.94 666.0v-6.5M312.94 338.5v6.5M320.43 666.0v-6.5M320.43 338.5v6.5M327.04 666.0v-6.5M327.04 338.5v6.5M332.95 666.0v-13M332.95 338.5v13M371.84 666.0v-6.5M371.84 338.5v6.5M394.59 666.0v-6.5M394.59 338.5v6.5M410.74 666.0v-6.5M410.74 338.5v6.5M423.26 666.0v-6.5M423.26 338.5v6.5M433.49 666.0v-6.5M433.49 338.5v6.5M442.14 666.0v-6.5M442.14 338.5v6.5M449.63 666.0v-6.5M449.63 338.5v6.5M456.24 666.0v-6.5M456.24 338.5v6.5M462.15 666.0v-13M462.15 338.5v13M501.04 666.0v-6.5M501.04 338.5v6.5M523.79 666.0v-6.5M523.79 338.5v6.5M539.94 666.0v-6.5M539.94 338.5v6.5M552.46 666.0v-6.5M552.46 338.5v6.5M562.69 666.0v-6.5M562.69 338.5v6.5M571.34 666.0v-6.5M571.34 338.5v6.5M578.83 666.0v-6.5M578.83 338.5v6.5M585.44 666.0v-6.5M585.44 338.5v6.5M74.55 657.81h5M591.35 657.81h-5M74.55 649.62h5M591.35 649.62h-5M74.55 641.44h5M591.35 641.44h-5M74.55 633.25h5M591.35 633.25h-5M74.55 625.06h5M591.35 625.06h-5M74.55 616.88h5M591.35 616.88h-5M74.55 608.69h5M591.35 608.69h-5M74.55 600.50h5M591.35 600.50h-5M74.55 592.31h5M591.35 592.31h-5M74.55 584.12h10M591.35 584.12h-10M74.55 575.94h5M591.35 575.94h-5M74.55 567.75h5M591.35 567.75h-5M74.55 559.56h5M591.35 559.56h-5M74.55 551.38h5M591.35 551.38h-5M74.55 543.19h5M591.35 543.19h-5M74.55 535.00h5M591.35 535.00h-5M74.55 526.81h5M591.35 526.81h-5M74.55 518.62h5M591.35 518.62h-5M74.55 510.44h5M591.35 510.44h-5M74.55 502.25h10M591.35 502.25h-10M74.55 494.06h5M591.35 494.06h-5M74.55 485.88h5M591.35 485.88h-5M74.55 477.69h5M591.35 477.69h-5M74.55 469.50h5M591.35 469.50h-5M74.55 461.31h5M591.35 461.31h-5M74.55 453.12h5M591.35 453.12h-5M74.55 444.94h5M591.35 444.94h-5M74.55 436.75h5M591.35 436.75h-5M74.55 428.56h5M591.35 428.56h-5M74.55 420.38h10M591.35 420.38h-10M74.55 412.19h5M591.35 412.19h-5M74.55 404.00h5M591.35 404.00h-5M74.55 395.81h5M591.35 395.81h-5M74.55 387.62h5M591.35 387.62h-5M74.55 379.44h5M591.35 379.44h-5M74.55 371.25h5M591.35 371.25h-5M74.55 363.06h5M591.35 363.06h-5M74.55 354.88h5M591.35 354.88h-5M74.55 346.69h5M591.35 346.69h-5" stroke="#000" stroke-width="1.6" fill="none"/>
<circle cx="113" cy="534.2" r="4.7" fill="#ff0000" stroke="#c00000" stroke-width="0.7"/>
<rect x="187.0" y="530.0" width="8" height="8" fill="#0000ff" stroke="#0000b0" stroke-width="0.6"/>
<path d="M276.95 529.6L268.45 534.1L276.95 538.6Z" fill="#ff8080" stroke="#d06060" stroke-width="0.6"/>
<path d="M110.0 553.9L118.19999999999999 558.8L110.0 563.6999999999999Z" fill="#550088" stroke="#330055" stroke-width="0.6"/>
<path d="M190.8 553.3000000000001L196.10000000000002 558.6L190.8 563.9L185.5 558.6Z" fill="#bb55ee" stroke="#8a3ab0" stroke-width="0.6"/>
<path d="M269.09999999999997 561.7L273.7 553.3L278.3 561.7Z" fill="#cc6600" stroke="#8a4400" stroke-width="0.6"/>
<path d="M358.0 555.9L362.5 563.6999999999999L367.0 555.9Z" fill="#00ff00" stroke="#00a000" stroke-width="0.6"/>
<text class="n" x="125.2" y="539.0" font-size="15.2" textLength="34.4" lengthAdjust="spacingAndGlyphs">CRIS</text>
<text class="n" x="203.2" y="539.0" font-size="15.2" textLength="39.4" lengthAdjust="spacingAndGlyphs">HEAO</text>
<text class="n" x="282.6" y="539.0" font-size="15.2" textLength="57" lengthAdjust="spacingAndGlyphs">TRACER</text>
<text class="n" x="125.2" y="563.6" font-size="15.2" textLength="31" lengthAdjust="spacingAndGlyphs">CRN</text>
<text class="n" x="202.6" y="563.6" font-size="15.2" textLength="31.2" lengthAdjust="spacingAndGlyphs">ATIC</text>
<text class="n" x="282.6" y="563.6" font-size="15.2" textLength="30" lengthAdjust="spacingAndGlyphs">AMS</text>
<text class="n" x="371.4" y="563.6" font-size="15.2" textLength="50.6" lengthAdjust="spacingAndGlyphs">CREAM</text>
<path d="M113 588.7H164.3" stroke="#000" stroke-width="1.7"/>
<path d="M113 613.7H164.3" stroke="#000" stroke-width="1.7" stroke-dasharray="8 7.5"/>
<path d="M113 638H164.3" stroke="#000" stroke-width="1.7" stroke-dasharray="8 3.5 1.6 3.9"/>
<text class="g" x="183.5" y="593.2" font-size="15.5" textLength="160.5" lengthAdjust="spacingAndGlyphs">This Work; <tspan font-style="italic">ϕ</tspan>=250MV</text>
<text class="g" x="183.5" y="617.7" font-size="15.5" textLength="316" lengthAdjust="spacingAndGlyphs">GALPROP Diffusive Reacceleration Model</text>
<text class="g" x="183.5" y="642.2" font-size="15.5" textLength="241.5" lengthAdjust="spacingAndGlyphs">GALPROP Plain Diffusion Model</text>
<text x="35.2" y="15.8" font-size="21.5" textLength="31" lengthAdjust="spacingAndGlyphs">0.4</text>
<text x="35.2" y="92.0" font-size="21.5" textLength="31" lengthAdjust="spacingAndGlyphs">0.3</text>
<text x="35.2" y="174.4" font-size="21.5" textLength="31" lengthAdjust="spacingAndGlyphs">0.2</text>
<text x="35.2" y="255.6" font-size="21.5" textLength="31" lengthAdjust="spacingAndGlyphs">0.1</text>
<text x="35.2" y="330.0" font-size="21.5" textLength="31" lengthAdjust="spacingAndGlyphs">0.0</text>
<text x="35.2" y="352.5" font-size="21.5" textLength="31" lengthAdjust="spacingAndGlyphs">0.4</text>
<text x="35.2" y="428.9" font-size="21.5" textLength="31" lengthAdjust="spacingAndGlyphs">0.3</text>
<text x="35.2" y="510.2" font-size="21.5" textLength="31" lengthAdjust="spacingAndGlyphs">0.2</text>
<text x="35.2" y="592.2" font-size="21.5" textLength="31" lengthAdjust="spacingAndGlyphs">0.1</text>
<text x="35.2" y="666.4" font-size="21.5" textLength="31" lengthAdjust="spacingAndGlyphs">0.0</text>
<text x="58.25" y="696.2" font-size="20.5">10<tspan dx="-0.5" dy="-10" font-size="13.5">1</tspan></text>
<text x="187.45" y="696.2" font-size="20.5">10<tspan dx="-0.5" dy="-10" font-size="13.5">2</tspan></text>
<text x="316.65" y="696.2" font-size="20.5">10<tspan dx="-0.5" dy="-10" font-size="13.5">3</tspan></text>
<text x="445.85" y="696.2" font-size="20.5">10<tspan dx="-0.5" dy="-10" font-size="13.5">4</tspan></text>
<text x="567.05" y="696.2" font-size="20.5">10<tspan dx="-0.5" dy="-10" font-size="13.5">5</tspan></text>
<text x="214" y="721.2" font-size="19.5" textLength="236" lengthAdjust="spacingAndGlyphs">Energy (MeV nucleon<tspan dy="-8.5" font-size="12">-1</tspan><tspan dy="8.5">)</tspan></text>
<text transform="translate(17.8,165.6) rotate(-90)" font-size="20.5" text-anchor="middle" textLength="101" lengthAdjust="spacingAndGlyphs">B/C Ratio</text>
<text transform="translate(23.3,502.6) rotate(-90)" font-size="20.5" text-anchor="middle" textLength="202.5" lengthAdjust="spacingAndGlyphs">(Sc+Ti+V)/Fe Ratio</text>
</svg></body></html>
